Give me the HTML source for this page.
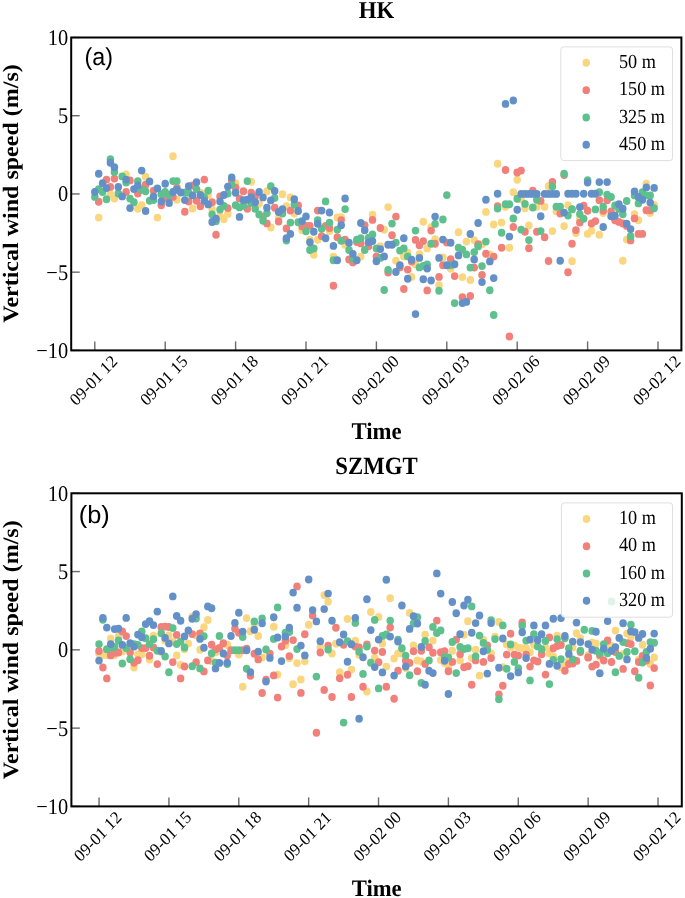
<!DOCTYPE html>
<html><head><meta charset="utf-8"><style>
html,body{margin:0;padding:0;background:#fff;width:685px;height:898px;overflow:hidden}
svg{display:block;will-change:transform}
text{text-rendering:geometricPrecision}
</style></head><body>
<svg width="685" height="898" viewBox="0 0 685 898">
<rect width="685" height="898" fill="#fff"/>
<ellipse cx="98.7" cy="217.6" rx="3.75" ry="3.95" fill="#fad77e"/>
<ellipse cx="110.4" cy="194.2" rx="3.75" ry="3.95" fill="#fad77e"/>
<ellipse cx="114.4" cy="198.6" rx="3.75" ry="3.95" fill="#fad77e"/>
<ellipse cx="126.1" cy="174.5" rx="3.75" ry="3.95" fill="#fad77e"/>
<ellipse cx="137.8" cy="208.8" rx="3.75" ry="3.95" fill="#fad77e"/>
<ellipse cx="141.7" cy="205.2" rx="3.75" ry="3.95" fill="#fad77e"/>
<ellipse cx="145.6" cy="176.7" rx="3.75" ry="3.95" fill="#fad77e"/>
<ellipse cx="157.4" cy="217.6" rx="3.75" ry="3.95" fill="#fad77e"/>
<ellipse cx="173.0" cy="156.3" rx="3.75" ry="3.95" fill="#fad77e"/>
<ellipse cx="176.9" cy="199.8" rx="3.75" ry="3.95" fill="#fad77e"/>
<ellipse cx="192.6" cy="208.5" rx="3.75" ry="3.95" fill="#fad77e"/>
<ellipse cx="200.4" cy="192.8" rx="3.75" ry="3.95" fill="#fad77e"/>
<ellipse cx="204.3" cy="194.2" rx="3.75" ry="3.95" fill="#fad77e"/>
<ellipse cx="208.2" cy="195.0" rx="3.75" ry="3.95" fill="#fad77e"/>
<ellipse cx="212.1" cy="209.6" rx="3.75" ry="3.95" fill="#fad77e"/>
<ellipse cx="220.0" cy="216.1" rx="3.75" ry="3.95" fill="#fad77e"/>
<ellipse cx="223.9" cy="219.3" rx="3.75" ry="3.95" fill="#fad77e"/>
<ellipse cx="227.8" cy="213.9" rx="3.75" ry="3.95" fill="#fad77e"/>
<ellipse cx="235.6" cy="183.3" rx="3.75" ry="3.95" fill="#fad77e"/>
<ellipse cx="251.2" cy="181.8" rx="3.75" ry="3.95" fill="#fad77e"/>
<ellipse cx="259.1" cy="203.7" rx="3.75" ry="3.95" fill="#fad77e"/>
<ellipse cx="266.9" cy="191.3" rx="3.75" ry="3.95" fill="#fad77e"/>
<ellipse cx="270.8" cy="227.5" rx="3.75" ry="3.95" fill="#fad77e"/>
<ellipse cx="278.6" cy="217.9" rx="3.75" ry="3.95" fill="#fad77e"/>
<ellipse cx="282.5" cy="194.2" rx="3.75" ry="3.95" fill="#fad77e"/>
<ellipse cx="286.4" cy="206.2" rx="3.75" ry="3.95" fill="#fad77e"/>
<ellipse cx="290.4" cy="197.4" rx="3.75" ry="3.95" fill="#fad77e"/>
<ellipse cx="294.3" cy="213.5" rx="3.75" ry="3.95" fill="#fad77e"/>
<ellipse cx="302.1" cy="230.3" rx="3.75" ry="3.95" fill="#fad77e"/>
<ellipse cx="309.9" cy="239.8" rx="3.75" ry="3.95" fill="#fad77e"/>
<ellipse cx="313.8" cy="254.8" rx="3.75" ry="3.95" fill="#fad77e"/>
<ellipse cx="317.7" cy="239.8" rx="3.75" ry="3.95" fill="#fad77e"/>
<ellipse cx="329.5" cy="231.0" rx="3.75" ry="3.95" fill="#fad77e"/>
<ellipse cx="333.4" cy="256.6" rx="3.75" ry="3.95" fill="#fad77e"/>
<ellipse cx="337.3" cy="217.4" rx="3.75" ry="3.95" fill="#fad77e"/>
<ellipse cx="341.2" cy="217.2" rx="3.75" ry="3.95" fill="#fad77e"/>
<ellipse cx="345.1" cy="244.9" rx="3.75" ry="3.95" fill="#fad77e"/>
<ellipse cx="360.8" cy="256.6" rx="3.75" ry="3.95" fill="#fad77e"/>
<ellipse cx="372.5" cy="214.8" rx="3.75" ry="3.95" fill="#fad77e"/>
<ellipse cx="380.3" cy="246.2" rx="3.75" ry="3.95" fill="#fad77e"/>
<ellipse cx="384.2" cy="229.7" rx="3.75" ry="3.95" fill="#fad77e"/>
<ellipse cx="388.1" cy="207.1" rx="3.75" ry="3.95" fill="#fad77e"/>
<ellipse cx="395.9" cy="260.8" rx="3.75" ry="3.95" fill="#fad77e"/>
<ellipse cx="403.8" cy="256.4" rx="3.75" ry="3.95" fill="#fad77e"/>
<ellipse cx="407.7" cy="252.8" rx="3.75" ry="3.95" fill="#fad77e"/>
<ellipse cx="411.6" cy="276.9" rx="3.75" ry="3.95" fill="#fad77e"/>
<ellipse cx="415.5" cy="264.4" rx="3.75" ry="3.95" fill="#fad77e"/>
<ellipse cx="419.4" cy="254.2" rx="3.75" ry="3.95" fill="#fad77e"/>
<ellipse cx="423.3" cy="221.8" rx="3.75" ry="3.95" fill="#fad77e"/>
<ellipse cx="427.2" cy="248.4" rx="3.75" ry="3.95" fill="#fad77e"/>
<ellipse cx="431.1" cy="227.2" rx="3.75" ry="3.95" fill="#fad77e"/>
<ellipse cx="435.1" cy="239.3" rx="3.75" ry="3.95" fill="#fad77e"/>
<ellipse cx="439.0" cy="285.2" rx="3.75" ry="3.95" fill="#fad77e"/>
<ellipse cx="442.9" cy="257.4" rx="3.75" ry="3.95" fill="#fad77e"/>
<ellipse cx="450.7" cy="268.8" rx="3.75" ry="3.95" fill="#fad77e"/>
<ellipse cx="458.5" cy="232.3" rx="3.75" ry="3.95" fill="#fad77e"/>
<ellipse cx="462.4" cy="277.1" rx="3.75" ry="3.95" fill="#fad77e"/>
<ellipse cx="466.4" cy="241.6" rx="3.75" ry="3.95" fill="#fad77e"/>
<ellipse cx="470.3" cy="280.0" rx="3.75" ry="3.95" fill="#fad77e"/>
<ellipse cx="474.2" cy="240.1" rx="3.75" ry="3.95" fill="#fad77e"/>
<ellipse cx="478.1" cy="244.9" rx="3.75" ry="3.95" fill="#fad77e"/>
<ellipse cx="482.0" cy="244.2" rx="3.75" ry="3.95" fill="#fad77e"/>
<ellipse cx="485.9" cy="211.9" rx="3.75" ry="3.95" fill="#fad77e"/>
<ellipse cx="489.8" cy="254.4" rx="3.75" ry="3.95" fill="#fad77e"/>
<ellipse cx="493.7" cy="224.5" rx="3.75" ry="3.95" fill="#fad77e"/>
<ellipse cx="497.6" cy="163.7" rx="3.75" ry="3.95" fill="#fad77e"/>
<ellipse cx="501.6" cy="222.6" rx="3.75" ry="3.95" fill="#fad77e"/>
<ellipse cx="505.5" cy="206.8" rx="3.75" ry="3.95" fill="#fad77e"/>
<ellipse cx="509.4" cy="247.8" rx="3.75" ry="3.95" fill="#fad77e"/>
<ellipse cx="513.3" cy="192.2" rx="3.75" ry="3.95" fill="#fad77e"/>
<ellipse cx="517.2" cy="179.8" rx="3.75" ry="3.95" fill="#fad77e"/>
<ellipse cx="521.1" cy="199.5" rx="3.75" ry="3.95" fill="#fad77e"/>
<ellipse cx="525.0" cy="208.2" rx="3.75" ry="3.95" fill="#fad77e"/>
<ellipse cx="528.9" cy="225.5" rx="3.75" ry="3.95" fill="#fad77e"/>
<ellipse cx="536.8" cy="206.8" rx="3.75" ry="3.95" fill="#fad77e"/>
<ellipse cx="544.6" cy="206.8" rx="3.75" ry="3.95" fill="#fad77e"/>
<ellipse cx="548.5" cy="186.3" rx="3.75" ry="3.95" fill="#fad77e"/>
<ellipse cx="552.4" cy="231.1" rx="3.75" ry="3.95" fill="#fad77e"/>
<ellipse cx="556.3" cy="211.2" rx="3.75" ry="3.95" fill="#fad77e"/>
<ellipse cx="564.1" cy="226.1" rx="3.75" ry="3.95" fill="#fad77e"/>
<ellipse cx="568.0" cy="205.1" rx="3.75" ry="3.95" fill="#fad77e"/>
<ellipse cx="572.0" cy="261.2" rx="3.75" ry="3.95" fill="#fad77e"/>
<ellipse cx="575.9" cy="233.1" rx="3.75" ry="3.95" fill="#fad77e"/>
<ellipse cx="579.8" cy="218.7" rx="3.75" ry="3.95" fill="#fad77e"/>
<ellipse cx="587.6" cy="233.9" rx="3.75" ry="3.95" fill="#fad77e"/>
<ellipse cx="591.5" cy="230.7" rx="3.75" ry="3.95" fill="#fad77e"/>
<ellipse cx="599.3" cy="234.8" rx="3.75" ry="3.95" fill="#fad77e"/>
<ellipse cx="603.2" cy="213.1" rx="3.75" ry="3.95" fill="#fad77e"/>
<ellipse cx="622.8" cy="260.8" rx="3.75" ry="3.95" fill="#fad77e"/>
<ellipse cx="626.7" cy="239.6" rx="3.75" ry="3.95" fill="#fad77e"/>
<ellipse cx="634.5" cy="214.2" rx="3.75" ry="3.95" fill="#fad77e"/>
<ellipse cx="638.4" cy="220.3" rx="3.75" ry="3.95" fill="#fad77e"/>
<ellipse cx="646.3" cy="183.7" rx="3.75" ry="3.95" fill="#fad77e"/>
<ellipse cx="650.2" cy="213.1" rx="3.75" ry="3.95" fill="#fad77e"/>
<ellipse cx="654.1" cy="205.0" rx="3.75" ry="3.95" fill="#fad77e"/>
<ellipse cx="98.7" cy="201.8" rx="3.75" ry="3.95" fill="#f1807a"/>
<ellipse cx="106.5" cy="179.6" rx="3.75" ry="3.95" fill="#f1807a"/>
<ellipse cx="110.4" cy="186.9" rx="3.75" ry="3.95" fill="#f1807a"/>
<ellipse cx="114.4" cy="178.6" rx="3.75" ry="3.95" fill="#f1807a"/>
<ellipse cx="126.1" cy="192.0" rx="3.75" ry="3.95" fill="#f1807a"/>
<ellipse cx="130.0" cy="180.4" rx="3.75" ry="3.95" fill="#f1807a"/>
<ellipse cx="137.8" cy="193.5" rx="3.75" ry="3.95" fill="#f1807a"/>
<ellipse cx="145.6" cy="184.7" rx="3.75" ry="3.95" fill="#f1807a"/>
<ellipse cx="153.5" cy="190.6" rx="3.75" ry="3.95" fill="#f1807a"/>
<ellipse cx="161.3" cy="205.2" rx="3.75" ry="3.95" fill="#f1807a"/>
<ellipse cx="165.2" cy="197.9" rx="3.75" ry="3.95" fill="#f1807a"/>
<ellipse cx="173.0" cy="196.9" rx="3.75" ry="3.95" fill="#f1807a"/>
<ellipse cx="176.9" cy="187.7" rx="3.75" ry="3.95" fill="#f1807a"/>
<ellipse cx="184.8" cy="211.8" rx="3.75" ry="3.95" fill="#f1807a"/>
<ellipse cx="188.7" cy="201.5" rx="3.75" ry="3.95" fill="#f1807a"/>
<ellipse cx="192.6" cy="185.5" rx="3.75" ry="3.95" fill="#f1807a"/>
<ellipse cx="196.5" cy="200.8" rx="3.75" ry="3.95" fill="#f1807a"/>
<ellipse cx="200.4" cy="206.2" rx="3.75" ry="3.95" fill="#f1807a"/>
<ellipse cx="204.3" cy="179.6" rx="3.75" ry="3.95" fill="#f1807a"/>
<ellipse cx="212.1" cy="202.3" rx="3.75" ry="3.95" fill="#f1807a"/>
<ellipse cx="216.0" cy="234.8" rx="3.75" ry="3.95" fill="#f1807a"/>
<ellipse cx="220.0" cy="196.4" rx="3.75" ry="3.95" fill="#f1807a"/>
<ellipse cx="227.8" cy="208.1" rx="3.75" ry="3.95" fill="#f1807a"/>
<ellipse cx="231.7" cy="180.4" rx="3.75" ry="3.95" fill="#f1807a"/>
<ellipse cx="235.6" cy="187.7" rx="3.75" ry="3.95" fill="#f1807a"/>
<ellipse cx="239.5" cy="198.6" rx="3.75" ry="3.95" fill="#f1807a"/>
<ellipse cx="243.4" cy="191.3" rx="3.75" ry="3.95" fill="#f1807a"/>
<ellipse cx="247.3" cy="208.8" rx="3.75" ry="3.95" fill="#f1807a"/>
<ellipse cx="251.2" cy="192.8" rx="3.75" ry="3.95" fill="#f1807a"/>
<ellipse cx="255.2" cy="196.4" rx="3.75" ry="3.95" fill="#f1807a"/>
<ellipse cx="263.0" cy="216.9" rx="3.75" ry="3.95" fill="#f1807a"/>
<ellipse cx="266.9" cy="223.4" rx="3.75" ry="3.95" fill="#f1807a"/>
<ellipse cx="274.7" cy="207.7" rx="3.75" ry="3.95" fill="#f1807a"/>
<ellipse cx="278.6" cy="221.5" rx="3.75" ry="3.95" fill="#f1807a"/>
<ellipse cx="286.4" cy="228.4" rx="3.75" ry="3.95" fill="#f1807a"/>
<ellipse cx="290.4" cy="210.6" rx="3.75" ry="3.95" fill="#f1807a"/>
<ellipse cx="298.2" cy="205.5" rx="3.75" ry="3.95" fill="#f1807a"/>
<ellipse cx="302.1" cy="226.6" rx="3.75" ry="3.95" fill="#f1807a"/>
<ellipse cx="306.0" cy="225.9" rx="3.75" ry="3.95" fill="#f1807a"/>
<ellipse cx="309.9" cy="225.9" rx="3.75" ry="3.95" fill="#f1807a"/>
<ellipse cx="317.7" cy="210.6" rx="3.75" ry="3.95" fill="#f1807a"/>
<ellipse cx="321.6" cy="236.1" rx="3.75" ry="3.95" fill="#f1807a"/>
<ellipse cx="325.6" cy="225.9" rx="3.75" ry="3.95" fill="#f1807a"/>
<ellipse cx="329.5" cy="228.1" rx="3.75" ry="3.95" fill="#f1807a"/>
<ellipse cx="333.4" cy="285.8" rx="3.75" ry="3.95" fill="#f1807a"/>
<ellipse cx="337.3" cy="237.3" rx="3.75" ry="3.95" fill="#f1807a"/>
<ellipse cx="341.2" cy="220.1" rx="3.75" ry="3.95" fill="#f1807a"/>
<ellipse cx="345.1" cy="239.8" rx="3.75" ry="3.95" fill="#f1807a"/>
<ellipse cx="349.0" cy="259.5" rx="3.75" ry="3.95" fill="#f1807a"/>
<ellipse cx="352.9" cy="262.4" rx="3.75" ry="3.95" fill="#f1807a"/>
<ellipse cx="356.8" cy="242.0" rx="3.75" ry="3.95" fill="#f1807a"/>
<ellipse cx="360.8" cy="243.4" rx="3.75" ry="3.95" fill="#f1807a"/>
<ellipse cx="364.7" cy="225.2" rx="3.75" ry="3.95" fill="#f1807a"/>
<ellipse cx="368.6" cy="246.3" rx="3.75" ry="3.95" fill="#f1807a"/>
<ellipse cx="372.5" cy="219.9" rx="3.75" ry="3.95" fill="#f1807a"/>
<ellipse cx="376.4" cy="256.4" rx="3.75" ry="3.95" fill="#f1807a"/>
<ellipse cx="380.3" cy="228.0" rx="3.75" ry="3.95" fill="#f1807a"/>
<ellipse cx="388.1" cy="272.5" rx="3.75" ry="3.95" fill="#f1807a"/>
<ellipse cx="392.0" cy="235.3" rx="3.75" ry="3.95" fill="#f1807a"/>
<ellipse cx="395.9" cy="216.6" rx="3.75" ry="3.95" fill="#f1807a"/>
<ellipse cx="399.9" cy="267.4" rx="3.75" ry="3.95" fill="#f1807a"/>
<ellipse cx="403.8" cy="289.0" rx="3.75" ry="3.95" fill="#f1807a"/>
<ellipse cx="407.7" cy="269.6" rx="3.75" ry="3.95" fill="#f1807a"/>
<ellipse cx="411.6" cy="261.5" rx="3.75" ry="3.95" fill="#f1807a"/>
<ellipse cx="415.5" cy="239.9" rx="3.75" ry="3.95" fill="#f1807a"/>
<ellipse cx="419.4" cy="245.2" rx="3.75" ry="3.95" fill="#f1807a"/>
<ellipse cx="423.3" cy="241.1" rx="3.75" ry="3.95" fill="#f1807a"/>
<ellipse cx="427.2" cy="290.4" rx="3.75" ry="3.95" fill="#f1807a"/>
<ellipse cx="431.1" cy="230.6" rx="3.75" ry="3.95" fill="#f1807a"/>
<ellipse cx="435.1" cy="243.7" rx="3.75" ry="3.95" fill="#f1807a"/>
<ellipse cx="439.0" cy="276.9" rx="3.75" ry="3.95" fill="#f1807a"/>
<ellipse cx="442.9" cy="265.2" rx="3.75" ry="3.95" fill="#f1807a"/>
<ellipse cx="446.8" cy="242.6" rx="3.75" ry="3.95" fill="#f1807a"/>
<ellipse cx="450.7" cy="259.3" rx="3.75" ry="3.95" fill="#f1807a"/>
<ellipse cx="454.6" cy="276.1" rx="3.75" ry="3.95" fill="#f1807a"/>
<ellipse cx="462.4" cy="297.3" rx="3.75" ry="3.95" fill="#f1807a"/>
<ellipse cx="470.3" cy="296.0" rx="3.75" ry="3.95" fill="#f1807a"/>
<ellipse cx="474.2" cy="267.6" rx="3.75" ry="3.95" fill="#f1807a"/>
<ellipse cx="478.1" cy="244.2" rx="3.75" ry="3.95" fill="#f1807a"/>
<ellipse cx="482.0" cy="274.9" rx="3.75" ry="3.95" fill="#f1807a"/>
<ellipse cx="485.9" cy="253.7" rx="3.75" ry="3.95" fill="#f1807a"/>
<ellipse cx="493.7" cy="256.6" rx="3.75" ry="3.95" fill="#f1807a"/>
<ellipse cx="497.6" cy="206.1" rx="3.75" ry="3.95" fill="#f1807a"/>
<ellipse cx="501.6" cy="247.8" rx="3.75" ry="3.95" fill="#f1807a"/>
<ellipse cx="505.5" cy="170.0" rx="3.75" ry="3.95" fill="#f1807a"/>
<ellipse cx="509.4" cy="336.5" rx="3.75" ry="3.95" fill="#f1807a"/>
<ellipse cx="513.3" cy="227.0" rx="3.75" ry="3.95" fill="#f1807a"/>
<ellipse cx="517.2" cy="172.5" rx="3.75" ry="3.95" fill="#f1807a"/>
<ellipse cx="521.1" cy="170.6" rx="3.75" ry="3.95" fill="#f1807a"/>
<ellipse cx="525.0" cy="231.8" rx="3.75" ry="3.95" fill="#f1807a"/>
<ellipse cx="528.9" cy="248.3" rx="3.75" ry="3.95" fill="#f1807a"/>
<ellipse cx="532.8" cy="190.7" rx="3.75" ry="3.95" fill="#f1807a"/>
<ellipse cx="536.8" cy="231.8" rx="3.75" ry="3.95" fill="#f1807a"/>
<ellipse cx="540.7" cy="200.9" rx="3.75" ry="3.95" fill="#f1807a"/>
<ellipse cx="544.6" cy="237.2" rx="3.75" ry="3.95" fill="#f1807a"/>
<ellipse cx="548.5" cy="261.0" rx="3.75" ry="3.95" fill="#f1807a"/>
<ellipse cx="552.4" cy="182.0" rx="3.75" ry="3.95" fill="#f1807a"/>
<ellipse cx="560.2" cy="213.6" rx="3.75" ry="3.95" fill="#f1807a"/>
<ellipse cx="564.1" cy="175.0" rx="3.75" ry="3.95" fill="#f1807a"/>
<ellipse cx="568.0" cy="272.2" rx="3.75" ry="3.95" fill="#f1807a"/>
<ellipse cx="572.0" cy="243.7" rx="3.75" ry="3.95" fill="#f1807a"/>
<ellipse cx="575.9" cy="230.1" rx="3.75" ry="3.95" fill="#f1807a"/>
<ellipse cx="579.8" cy="222.6" rx="3.75" ry="3.95" fill="#f1807a"/>
<ellipse cx="583.7" cy="205.8" rx="3.75" ry="3.95" fill="#f1807a"/>
<ellipse cx="587.6" cy="210.7" rx="3.75" ry="3.95" fill="#f1807a"/>
<ellipse cx="591.5" cy="223.5" rx="3.75" ry="3.95" fill="#f1807a"/>
<ellipse cx="595.4" cy="221.1" rx="3.75" ry="3.95" fill="#f1807a"/>
<ellipse cx="599.3" cy="200.2" rx="3.75" ry="3.95" fill="#f1807a"/>
<ellipse cx="603.2" cy="210.7" rx="3.75" ry="3.95" fill="#f1807a"/>
<ellipse cx="607.1" cy="200.2" rx="3.75" ry="3.95" fill="#f1807a"/>
<ellipse cx="611.1" cy="211.5" rx="3.75" ry="3.95" fill="#f1807a"/>
<ellipse cx="615.0" cy="220.3" rx="3.75" ry="3.95" fill="#f1807a"/>
<ellipse cx="618.9" cy="221.9" rx="3.75" ry="3.95" fill="#f1807a"/>
<ellipse cx="622.8" cy="223.5" rx="3.75" ry="3.95" fill="#f1807a"/>
<ellipse cx="626.7" cy="225.9" rx="3.75" ry="3.95" fill="#f1807a"/>
<ellipse cx="630.6" cy="240.4" rx="3.75" ry="3.95" fill="#f1807a"/>
<ellipse cx="634.5" cy="218.4" rx="3.75" ry="3.95" fill="#f1807a"/>
<ellipse cx="638.4" cy="233.9" rx="3.75" ry="3.95" fill="#f1807a"/>
<ellipse cx="642.4" cy="233.9" rx="3.75" ry="3.95" fill="#f1807a"/>
<ellipse cx="646.3" cy="210.3" rx="3.75" ry="3.95" fill="#f1807a"/>
<ellipse cx="650.2" cy="210.3" rx="3.75" ry="3.95" fill="#f1807a"/>
<ellipse cx="94.8" cy="196.9" rx="3.75" ry="3.95" fill="#5ec18d"/>
<ellipse cx="98.7" cy="189.1" rx="3.75" ry="3.95" fill="#5ec18d"/>
<ellipse cx="102.6" cy="192.0" rx="3.75" ry="3.95" fill="#5ec18d"/>
<ellipse cx="106.5" cy="199.3" rx="3.75" ry="3.95" fill="#5ec18d"/>
<ellipse cx="110.4" cy="159.2" rx="3.75" ry="3.95" fill="#5ec18d"/>
<ellipse cx="114.4" cy="172.0" rx="3.75" ry="3.95" fill="#5ec18d"/>
<ellipse cx="118.3" cy="193.5" rx="3.75" ry="3.95" fill="#5ec18d"/>
<ellipse cx="122.2" cy="176.4" rx="3.75" ry="3.95" fill="#5ec18d"/>
<ellipse cx="126.1" cy="182.6" rx="3.75" ry="3.95" fill="#5ec18d"/>
<ellipse cx="130.0" cy="198.6" rx="3.75" ry="3.95" fill="#5ec18d"/>
<ellipse cx="133.9" cy="202.3" rx="3.75" ry="3.95" fill="#5ec18d"/>
<ellipse cx="137.8" cy="181.1" rx="3.75" ry="3.95" fill="#5ec18d"/>
<ellipse cx="141.7" cy="189.8" rx="3.75" ry="3.95" fill="#5ec18d"/>
<ellipse cx="145.6" cy="191.3" rx="3.75" ry="3.95" fill="#5ec18d"/>
<ellipse cx="149.6" cy="200.8" rx="3.75" ry="3.95" fill="#5ec18d"/>
<ellipse cx="153.5" cy="200.1" rx="3.75" ry="3.95" fill="#5ec18d"/>
<ellipse cx="161.3" cy="194.2" rx="3.75" ry="3.95" fill="#5ec18d"/>
<ellipse cx="165.2" cy="192.0" rx="3.75" ry="3.95" fill="#5ec18d"/>
<ellipse cx="169.1" cy="195.0" rx="3.75" ry="3.95" fill="#5ec18d"/>
<ellipse cx="173.0" cy="181.1" rx="3.75" ry="3.95" fill="#5ec18d"/>
<ellipse cx="176.9" cy="181.1" rx="3.75" ry="3.95" fill="#5ec18d"/>
<ellipse cx="184.8" cy="192.5" rx="3.75" ry="3.95" fill="#5ec18d"/>
<ellipse cx="188.7" cy="192.8" rx="3.75" ry="3.95" fill="#5ec18d"/>
<ellipse cx="196.5" cy="189.1" rx="3.75" ry="3.95" fill="#5ec18d"/>
<ellipse cx="204.3" cy="197.2" rx="3.75" ry="3.95" fill="#5ec18d"/>
<ellipse cx="208.2" cy="190.6" rx="3.75" ry="3.95" fill="#5ec18d"/>
<ellipse cx="212.1" cy="214.4" rx="3.75" ry="3.95" fill="#5ec18d"/>
<ellipse cx="216.0" cy="221.2" rx="3.75" ry="3.95" fill="#5ec18d"/>
<ellipse cx="220.0" cy="209.6" rx="3.75" ry="3.95" fill="#5ec18d"/>
<ellipse cx="223.9" cy="205.9" rx="3.75" ry="3.95" fill="#5ec18d"/>
<ellipse cx="227.8" cy="193.5" rx="3.75" ry="3.95" fill="#5ec18d"/>
<ellipse cx="231.7" cy="184.7" rx="3.75" ry="3.95" fill="#5ec18d"/>
<ellipse cx="235.6" cy="205.2" rx="3.75" ry="3.95" fill="#5ec18d"/>
<ellipse cx="239.5" cy="207.4" rx="3.75" ry="3.95" fill="#5ec18d"/>
<ellipse cx="243.4" cy="205.9" rx="3.75" ry="3.95" fill="#5ec18d"/>
<ellipse cx="247.3" cy="181.1" rx="3.75" ry="3.95" fill="#5ec18d"/>
<ellipse cx="251.2" cy="203.0" rx="3.75" ry="3.95" fill="#5ec18d"/>
<ellipse cx="255.2" cy="208.8" rx="3.75" ry="3.95" fill="#5ec18d"/>
<ellipse cx="259.1" cy="214.4" rx="3.75" ry="3.95" fill="#5ec18d"/>
<ellipse cx="263.0" cy="220.8" rx="3.75" ry="3.95" fill="#5ec18d"/>
<ellipse cx="266.9" cy="213.2" rx="3.75" ry="3.95" fill="#5ec18d"/>
<ellipse cx="270.8" cy="186.2" rx="3.75" ry="3.95" fill="#5ec18d"/>
<ellipse cx="274.7" cy="197.9" rx="3.75" ry="3.95" fill="#5ec18d"/>
<ellipse cx="282.5" cy="213.5" rx="3.75" ry="3.95" fill="#5ec18d"/>
<ellipse cx="286.4" cy="240.5" rx="3.75" ry="3.95" fill="#5ec18d"/>
<ellipse cx="290.4" cy="222.6" rx="3.75" ry="3.95" fill="#5ec18d"/>
<ellipse cx="294.3" cy="204.7" rx="3.75" ry="3.95" fill="#5ec18d"/>
<ellipse cx="298.2" cy="222.3" rx="3.75" ry="3.95" fill="#5ec18d"/>
<ellipse cx="306.0" cy="231.3" rx="3.75" ry="3.95" fill="#5ec18d"/>
<ellipse cx="309.9" cy="250.0" rx="3.75" ry="3.95" fill="#5ec18d"/>
<ellipse cx="313.8" cy="248.5" rx="3.75" ry="3.95" fill="#5ec18d"/>
<ellipse cx="317.7" cy="220.1" rx="3.75" ry="3.95" fill="#5ec18d"/>
<ellipse cx="321.6" cy="228.8" rx="3.75" ry="3.95" fill="#5ec18d"/>
<ellipse cx="325.6" cy="201.4" rx="3.75" ry="3.95" fill="#5ec18d"/>
<ellipse cx="329.5" cy="222.7" rx="3.75" ry="3.95" fill="#5ec18d"/>
<ellipse cx="333.4" cy="260.2" rx="3.75" ry="3.95" fill="#5ec18d"/>
<ellipse cx="337.3" cy="229.6" rx="3.75" ry="3.95" fill="#5ec18d"/>
<ellipse cx="341.2" cy="240.8" rx="3.75" ry="3.95" fill="#5ec18d"/>
<ellipse cx="345.1" cy="209.1" rx="3.75" ry="3.95" fill="#5ec18d"/>
<ellipse cx="349.0" cy="250.0" rx="3.75" ry="3.95" fill="#5ec18d"/>
<ellipse cx="352.9" cy="258.8" rx="3.75" ry="3.95" fill="#5ec18d"/>
<ellipse cx="356.8" cy="239.8" rx="3.75" ry="3.95" fill="#5ec18d"/>
<ellipse cx="360.8" cy="238.3" rx="3.75" ry="3.95" fill="#5ec18d"/>
<ellipse cx="364.7" cy="250.0" rx="3.75" ry="3.95" fill="#5ec18d"/>
<ellipse cx="368.6" cy="237.6" rx="3.75" ry="3.95" fill="#5ec18d"/>
<ellipse cx="372.5" cy="234.5" rx="3.75" ry="3.95" fill="#5ec18d"/>
<ellipse cx="376.4" cy="248.4" rx="3.75" ry="3.95" fill="#5ec18d"/>
<ellipse cx="380.3" cy="257.9" rx="3.75" ry="3.95" fill="#5ec18d"/>
<ellipse cx="384.2" cy="290.0" rx="3.75" ry="3.95" fill="#5ec18d"/>
<ellipse cx="388.1" cy="270.0" rx="3.75" ry="3.95" fill="#5ec18d"/>
<ellipse cx="392.0" cy="223.6" rx="3.75" ry="3.95" fill="#5ec18d"/>
<ellipse cx="395.9" cy="242.6" rx="3.75" ry="3.95" fill="#5ec18d"/>
<ellipse cx="399.9" cy="250.6" rx="3.75" ry="3.95" fill="#5ec18d"/>
<ellipse cx="403.8" cy="248.4" rx="3.75" ry="3.95" fill="#5ec18d"/>
<ellipse cx="407.7" cy="256.4" rx="3.75" ry="3.95" fill="#5ec18d"/>
<ellipse cx="415.5" cy="230.6" rx="3.75" ry="3.95" fill="#5ec18d"/>
<ellipse cx="419.4" cy="267.4" rx="3.75" ry="3.95" fill="#5ec18d"/>
<ellipse cx="423.3" cy="265.9" rx="3.75" ry="3.95" fill="#5ec18d"/>
<ellipse cx="427.2" cy="264.4" rx="3.75" ry="3.95" fill="#5ec18d"/>
<ellipse cx="431.1" cy="243.7" rx="3.75" ry="3.95" fill="#5ec18d"/>
<ellipse cx="435.1" cy="223.9" rx="3.75" ry="3.95" fill="#5ec18d"/>
<ellipse cx="439.0" cy="290.7" rx="3.75" ry="3.95" fill="#5ec18d"/>
<ellipse cx="442.9" cy="219.5" rx="3.75" ry="3.95" fill="#5ec18d"/>
<ellipse cx="446.8" cy="195.1" rx="3.75" ry="3.95" fill="#5ec18d"/>
<ellipse cx="450.7" cy="265.2" rx="3.75" ry="3.95" fill="#5ec18d"/>
<ellipse cx="454.6" cy="303.1" rx="3.75" ry="3.95" fill="#5ec18d"/>
<ellipse cx="458.5" cy="247.7" rx="3.75" ry="3.95" fill="#5ec18d"/>
<ellipse cx="462.4" cy="249.8" rx="3.75" ry="3.95" fill="#5ec18d"/>
<ellipse cx="466.4" cy="254.4" rx="3.75" ry="3.95" fill="#5ec18d"/>
<ellipse cx="470.3" cy="267.6" rx="3.75" ry="3.95" fill="#5ec18d"/>
<ellipse cx="474.2" cy="252.2" rx="3.75" ry="3.95" fill="#5ec18d"/>
<ellipse cx="478.1" cy="246.4" rx="3.75" ry="3.95" fill="#5ec18d"/>
<ellipse cx="482.0" cy="266.1" rx="3.75" ry="3.95" fill="#5ec18d"/>
<ellipse cx="485.9" cy="241.6" rx="3.75" ry="3.95" fill="#5ec18d"/>
<ellipse cx="489.8" cy="290.2" rx="3.75" ry="3.95" fill="#5ec18d"/>
<ellipse cx="493.7" cy="315.0" rx="3.75" ry="3.95" fill="#5ec18d"/>
<ellipse cx="497.6" cy="208.5" rx="3.75" ry="3.95" fill="#5ec18d"/>
<ellipse cx="501.6" cy="232.8" rx="3.75" ry="3.95" fill="#5ec18d"/>
<ellipse cx="505.5" cy="204.2" rx="3.75" ry="3.95" fill="#5ec18d"/>
<ellipse cx="509.4" cy="204.2" rx="3.75" ry="3.95" fill="#5ec18d"/>
<ellipse cx="513.3" cy="218.5" rx="3.75" ry="3.95" fill="#5ec18d"/>
<ellipse cx="517.2" cy="198.8" rx="3.75" ry="3.95" fill="#5ec18d"/>
<ellipse cx="521.1" cy="229.6" rx="3.75" ry="3.95" fill="#5ec18d"/>
<ellipse cx="525.0" cy="203.9" rx="3.75" ry="3.95" fill="#5ec18d"/>
<ellipse cx="528.9" cy="240.1" rx="3.75" ry="3.95" fill="#5ec18d"/>
<ellipse cx="532.8" cy="207.5" rx="3.75" ry="3.95" fill="#5ec18d"/>
<ellipse cx="536.8" cy="199.8" rx="3.75" ry="3.95" fill="#5ec18d"/>
<ellipse cx="540.7" cy="231.1" rx="3.75" ry="3.95" fill="#5ec18d"/>
<ellipse cx="552.4" cy="186.6" rx="3.75" ry="3.95" fill="#5ec18d"/>
<ellipse cx="556.3" cy="206.8" rx="3.75" ry="3.95" fill="#5ec18d"/>
<ellipse cx="560.2" cy="206.6" rx="3.75" ry="3.95" fill="#5ec18d"/>
<ellipse cx="564.1" cy="173.7" rx="3.75" ry="3.95" fill="#5ec18d"/>
<ellipse cx="568.0" cy="215.6" rx="3.75" ry="3.95" fill="#5ec18d"/>
<ellipse cx="572.0" cy="209.4" rx="3.75" ry="3.95" fill="#5ec18d"/>
<ellipse cx="572.0" cy="209.1" rx="3.75" ry="3.95" fill="#5ec18d"/>
<ellipse cx="579.8" cy="214.1" rx="3.75" ry="3.95" fill="#5ec18d"/>
<ellipse cx="583.7" cy="218.7" rx="3.75" ry="3.95" fill="#5ec18d"/>
<ellipse cx="587.6" cy="180.2" rx="3.75" ry="3.95" fill="#5ec18d"/>
<ellipse cx="595.4" cy="209.4" rx="3.75" ry="3.95" fill="#5ec18d"/>
<ellipse cx="599.3" cy="192.2" rx="3.75" ry="3.95" fill="#5ec18d"/>
<ellipse cx="603.2" cy="206.7" rx="3.75" ry="3.95" fill="#5ec18d"/>
<ellipse cx="607.1" cy="194.6" rx="3.75" ry="3.95" fill="#5ec18d"/>
<ellipse cx="611.1" cy="197.0" rx="3.75" ry="3.95" fill="#5ec18d"/>
<ellipse cx="615.0" cy="205.5" rx="3.75" ry="3.95" fill="#5ec18d"/>
<ellipse cx="618.9" cy="209.1" rx="3.75" ry="3.95" fill="#5ec18d"/>
<ellipse cx="622.8" cy="214.2" rx="3.75" ry="3.95" fill="#5ec18d"/>
<ellipse cx="626.7" cy="201.0" rx="3.75" ry="3.95" fill="#5ec18d"/>
<ellipse cx="630.6" cy="236.3" rx="3.75" ry="3.95" fill="#5ec18d"/>
<ellipse cx="634.5" cy="195.4" rx="3.75" ry="3.95" fill="#5ec18d"/>
<ellipse cx="638.4" cy="203.4" rx="3.75" ry="3.95" fill="#5ec18d"/>
<ellipse cx="642.4" cy="192.2" rx="3.75" ry="3.95" fill="#5ec18d"/>
<ellipse cx="646.3" cy="195.4" rx="3.75" ry="3.95" fill="#5ec18d"/>
<ellipse cx="650.2" cy="195.4" rx="3.75" ry="3.95" fill="#5ec18d"/>
<ellipse cx="654.1" cy="208.2" rx="3.75" ry="3.95" fill="#5ec18d"/>
<ellipse cx="94.8" cy="192.0" rx="3.75" ry="3.95" fill="#6490c8"/>
<ellipse cx="98.7" cy="173.8" rx="3.75" ry="3.95" fill="#6490c8"/>
<ellipse cx="102.6" cy="183.3" rx="3.75" ry="3.95" fill="#6490c8"/>
<ellipse cx="106.5" cy="188.1" rx="3.75" ry="3.95" fill="#6490c8"/>
<ellipse cx="110.4" cy="162.8" rx="3.75" ry="3.95" fill="#6490c8"/>
<ellipse cx="114.4" cy="167.2" rx="3.75" ry="3.95" fill="#6490c8"/>
<ellipse cx="118.3" cy="186.9" rx="3.75" ry="3.95" fill="#6490c8"/>
<ellipse cx="122.2" cy="196.4" rx="3.75" ry="3.95" fill="#6490c8"/>
<ellipse cx="126.1" cy="179.6" rx="3.75" ry="3.95" fill="#6490c8"/>
<ellipse cx="130.0" cy="208.1" rx="3.75" ry="3.95" fill="#6490c8"/>
<ellipse cx="133.9" cy="189.1" rx="3.75" ry="3.95" fill="#6490c8"/>
<ellipse cx="137.8" cy="185.5" rx="3.75" ry="3.95" fill="#6490c8"/>
<ellipse cx="141.7" cy="170.6" rx="3.75" ry="3.95" fill="#6490c8"/>
<ellipse cx="145.6" cy="211.0" rx="3.75" ry="3.95" fill="#6490c8"/>
<ellipse cx="149.6" cy="181.4" rx="3.75" ry="3.95" fill="#6490c8"/>
<ellipse cx="153.5" cy="196.4" rx="3.75" ry="3.95" fill="#6490c8"/>
<ellipse cx="157.4" cy="188.4" rx="3.75" ry="3.95" fill="#6490c8"/>
<ellipse cx="161.3" cy="201.5" rx="3.75" ry="3.95" fill="#6490c8"/>
<ellipse cx="165.2" cy="183.7" rx="3.75" ry="3.95" fill="#6490c8"/>
<ellipse cx="169.1" cy="203.0" rx="3.75" ry="3.95" fill="#6490c8"/>
<ellipse cx="173.0" cy="192.0" rx="3.75" ry="3.95" fill="#6490c8"/>
<ellipse cx="176.9" cy="189.8" rx="3.75" ry="3.95" fill="#6490c8"/>
<ellipse cx="180.8" cy="192.5" rx="3.75" ry="3.95" fill="#6490c8"/>
<ellipse cx="184.8" cy="200.1" rx="3.75" ry="3.95" fill="#6490c8"/>
<ellipse cx="188.7" cy="186.2" rx="3.75" ry="3.95" fill="#6490c8"/>
<ellipse cx="192.6" cy="195.4" rx="3.75" ry="3.95" fill="#6490c8"/>
<ellipse cx="196.5" cy="182.3" rx="3.75" ry="3.95" fill="#6490c8"/>
<ellipse cx="200.4" cy="195.0" rx="3.75" ry="3.95" fill="#6490c8"/>
<ellipse cx="204.3" cy="200.8" rx="3.75" ry="3.95" fill="#6490c8"/>
<ellipse cx="208.2" cy="204.4" rx="3.75" ry="3.95" fill="#6490c8"/>
<ellipse cx="212.1" cy="222.0" rx="3.75" ry="3.95" fill="#6490c8"/>
<ellipse cx="216.0" cy="218.8" rx="3.75" ry="3.95" fill="#6490c8"/>
<ellipse cx="220.0" cy="201.5" rx="3.75" ry="3.95" fill="#6490c8"/>
<ellipse cx="223.9" cy="195.0" rx="3.75" ry="3.95" fill="#6490c8"/>
<ellipse cx="227.8" cy="186.6" rx="3.75" ry="3.95" fill="#6490c8"/>
<ellipse cx="231.7" cy="177.4" rx="3.75" ry="3.95" fill="#6490c8"/>
<ellipse cx="235.6" cy="192.8" rx="3.75" ry="3.95" fill="#6490c8"/>
<ellipse cx="239.5" cy="216.9" rx="3.75" ry="3.95" fill="#6490c8"/>
<ellipse cx="243.4" cy="200.1" rx="3.75" ry="3.95" fill="#6490c8"/>
<ellipse cx="247.3" cy="199.8" rx="3.75" ry="3.95" fill="#6490c8"/>
<ellipse cx="251.2" cy="197.2" rx="3.75" ry="3.95" fill="#6490c8"/>
<ellipse cx="255.2" cy="202.3" rx="3.75" ry="3.95" fill="#6490c8"/>
<ellipse cx="259.1" cy="192.0" rx="3.75" ry="3.95" fill="#6490c8"/>
<ellipse cx="263.0" cy="197.4" rx="3.75" ry="3.95" fill="#6490c8"/>
<ellipse cx="266.9" cy="207.7" rx="3.75" ry="3.95" fill="#6490c8"/>
<ellipse cx="270.8" cy="200.4" rx="3.75" ry="3.95" fill="#6490c8"/>
<ellipse cx="274.7" cy="191.0" rx="3.75" ry="3.95" fill="#6490c8"/>
<ellipse cx="278.6" cy="212.0" rx="3.75" ry="3.95" fill="#6490c8"/>
<ellipse cx="282.5" cy="209.1" rx="3.75" ry="3.95" fill="#6490c8"/>
<ellipse cx="286.4" cy="238.3" rx="3.75" ry="3.95" fill="#6490c8"/>
<ellipse cx="290.4" cy="233.9" rx="3.75" ry="3.95" fill="#6490c8"/>
<ellipse cx="294.3" cy="199.3" rx="3.75" ry="3.95" fill="#6490c8"/>
<ellipse cx="298.2" cy="211.0" rx="3.75" ry="3.95" fill="#6490c8"/>
<ellipse cx="302.1" cy="221.1" rx="3.75" ry="3.95" fill="#6490c8"/>
<ellipse cx="306.0" cy="216.4" rx="3.75" ry="3.95" fill="#6490c8"/>
<ellipse cx="309.9" cy="242.3" rx="3.75" ry="3.95" fill="#6490c8"/>
<ellipse cx="313.8" cy="231.8" rx="3.75" ry="3.95" fill="#6490c8"/>
<ellipse cx="317.7" cy="223.7" rx="3.75" ry="3.95" fill="#6490c8"/>
<ellipse cx="321.6" cy="210.6" rx="3.75" ry="3.95" fill="#6490c8"/>
<ellipse cx="325.6" cy="238.3" rx="3.75" ry="3.95" fill="#6490c8"/>
<ellipse cx="329.5" cy="212.5" rx="3.75" ry="3.95" fill="#6490c8"/>
<ellipse cx="333.4" cy="245.9" rx="3.75" ry="3.95" fill="#6490c8"/>
<ellipse cx="337.3" cy="260.2" rx="3.75" ry="3.95" fill="#6490c8"/>
<ellipse cx="341.2" cy="225.2" rx="3.75" ry="3.95" fill="#6490c8"/>
<ellipse cx="345.1" cy="198.5" rx="3.75" ry="3.95" fill="#6490c8"/>
<ellipse cx="349.0" cy="242.7" rx="3.75" ry="3.95" fill="#6490c8"/>
<ellipse cx="352.9" cy="253.9" rx="3.75" ry="3.95" fill="#6490c8"/>
<ellipse cx="356.8" cy="260.2" rx="3.75" ry="3.95" fill="#6490c8"/>
<ellipse cx="360.8" cy="223.0" rx="3.75" ry="3.95" fill="#6490c8"/>
<ellipse cx="364.7" cy="230.3" rx="3.75" ry="3.95" fill="#6490c8"/>
<ellipse cx="368.6" cy="242.3" rx="3.75" ry="3.95" fill="#6490c8"/>
<ellipse cx="372.5" cy="241.1" rx="3.75" ry="3.95" fill="#6490c8"/>
<ellipse cx="376.4" cy="261.2" rx="3.75" ry="3.95" fill="#6490c8"/>
<ellipse cx="380.3" cy="249.1" rx="3.75" ry="3.95" fill="#6490c8"/>
<ellipse cx="384.2" cy="256.4" rx="3.75" ry="3.95" fill="#6490c8"/>
<ellipse cx="388.1" cy="244.7" rx="3.75" ry="3.95" fill="#6490c8"/>
<ellipse cx="392.0" cy="244.7" rx="3.75" ry="3.95" fill="#6490c8"/>
<ellipse cx="395.9" cy="272.0" rx="3.75" ry="3.95" fill="#6490c8"/>
<ellipse cx="399.9" cy="265.2" rx="3.75" ry="3.95" fill="#6490c8"/>
<ellipse cx="403.8" cy="238.2" rx="3.75" ry="3.95" fill="#6490c8"/>
<ellipse cx="407.7" cy="278.8" rx="3.75" ry="3.95" fill="#6490c8"/>
<ellipse cx="411.6" cy="259.8" rx="3.75" ry="3.95" fill="#6490c8"/>
<ellipse cx="415.5" cy="314.1" rx="3.75" ry="3.95" fill="#6490c8"/>
<ellipse cx="419.4" cy="257.9" rx="3.75" ry="3.95" fill="#6490c8"/>
<ellipse cx="423.3" cy="279.3" rx="3.75" ry="3.95" fill="#6490c8"/>
<ellipse cx="427.2" cy="268.5" rx="3.75" ry="3.95" fill="#6490c8"/>
<ellipse cx="431.1" cy="280.5" rx="3.75" ry="3.95" fill="#6490c8"/>
<ellipse cx="435.1" cy="216.6" rx="3.75" ry="3.95" fill="#6490c8"/>
<ellipse cx="439.0" cy="257.9" rx="3.75" ry="3.95" fill="#6490c8"/>
<ellipse cx="442.9" cy="239.6" rx="3.75" ry="3.95" fill="#6490c8"/>
<ellipse cx="446.8" cy="265.2" rx="3.75" ry="3.95" fill="#6490c8"/>
<ellipse cx="450.7" cy="242.8" rx="3.75" ry="3.95" fill="#6490c8"/>
<ellipse cx="454.6" cy="264.2" rx="3.75" ry="3.95" fill="#6490c8"/>
<ellipse cx="458.5" cy="255.4" rx="3.75" ry="3.95" fill="#6490c8"/>
<ellipse cx="462.4" cy="303.1" rx="3.75" ry="3.95" fill="#6490c8"/>
<ellipse cx="466.4" cy="301.9" rx="3.75" ry="3.95" fill="#6490c8"/>
<ellipse cx="470.3" cy="234.0" rx="3.75" ry="3.95" fill="#6490c8"/>
<ellipse cx="474.2" cy="259.5" rx="3.75" ry="3.95" fill="#6490c8"/>
<ellipse cx="478.1" cy="223.0" rx="3.75" ry="3.95" fill="#6490c8"/>
<ellipse cx="482.0" cy="282.1" rx="3.75" ry="3.95" fill="#6490c8"/>
<ellipse cx="485.9" cy="199.8" rx="3.75" ry="3.95" fill="#6490c8"/>
<ellipse cx="489.8" cy="261.4" rx="3.75" ry="3.95" fill="#6490c8"/>
<ellipse cx="493.7" cy="278.1" rx="3.75" ry="3.95" fill="#6490c8"/>
<ellipse cx="497.6" cy="193.7" rx="3.75" ry="3.95" fill="#6490c8"/>
<ellipse cx="505.5" cy="103.9" rx="3.75" ry="3.95" fill="#6490c8"/>
<ellipse cx="509.4" cy="236.6" rx="3.75" ry="3.95" fill="#6490c8"/>
<ellipse cx="513.3" cy="100.5" rx="3.75" ry="3.95" fill="#6490c8"/>
<ellipse cx="517.2" cy="209.7" rx="3.75" ry="3.95" fill="#6490c8"/>
<ellipse cx="521.1" cy="193.9" rx="3.75" ry="3.95" fill="#6490c8"/>
<ellipse cx="525.0" cy="193.9" rx="3.75" ry="3.95" fill="#6490c8"/>
<ellipse cx="528.9" cy="193.9" rx="3.75" ry="3.95" fill="#6490c8"/>
<ellipse cx="532.8" cy="193.9" rx="3.75" ry="3.95" fill="#6490c8"/>
<ellipse cx="536.8" cy="193.9" rx="3.75" ry="3.95" fill="#6490c8"/>
<ellipse cx="540.7" cy="216.3" rx="3.75" ry="3.95" fill="#6490c8"/>
<ellipse cx="544.6" cy="193.9" rx="3.75" ry="3.95" fill="#6490c8"/>
<ellipse cx="548.5" cy="193.9" rx="3.75" ry="3.95" fill="#6490c8"/>
<ellipse cx="552.4" cy="193.9" rx="3.75" ry="3.95" fill="#6490c8"/>
<ellipse cx="556.3" cy="193.9" rx="3.75" ry="3.95" fill="#6490c8"/>
<ellipse cx="560.2" cy="260.7" rx="3.75" ry="3.95" fill="#6490c8"/>
<ellipse cx="564.1" cy="212.6" rx="3.75" ry="3.95" fill="#6490c8"/>
<ellipse cx="568.0" cy="193.8" rx="3.75" ry="3.95" fill="#6490c8"/>
<ellipse cx="572.0" cy="193.8" rx="3.75" ry="3.95" fill="#6490c8"/>
<ellipse cx="575.9" cy="193.8" rx="3.75" ry="3.95" fill="#6490c8"/>
<ellipse cx="579.8" cy="207.1" rx="3.75" ry="3.95" fill="#6490c8"/>
<ellipse cx="583.7" cy="193.8" rx="3.75" ry="3.95" fill="#6490c8"/>
<ellipse cx="587.6" cy="182.6" rx="3.75" ry="3.95" fill="#6490c8"/>
<ellipse cx="591.5" cy="193.8" rx="3.75" ry="3.95" fill="#6490c8"/>
<ellipse cx="595.4" cy="193.8" rx="3.75" ry="3.95" fill="#6490c8"/>
<ellipse cx="599.3" cy="182.1" rx="3.75" ry="3.95" fill="#6490c8"/>
<ellipse cx="603.2" cy="227.0" rx="3.75" ry="3.95" fill="#6490c8"/>
<ellipse cx="607.1" cy="182.1" rx="3.75" ry="3.95" fill="#6490c8"/>
<ellipse cx="611.1" cy="216.3" rx="3.75" ry="3.95" fill="#6490c8"/>
<ellipse cx="615.0" cy="215.8" rx="3.75" ry="3.95" fill="#6490c8"/>
<ellipse cx="618.9" cy="204.2" rx="3.75" ry="3.95" fill="#6490c8"/>
<ellipse cx="622.8" cy="208.7" rx="3.75" ry="3.95" fill="#6490c8"/>
<ellipse cx="626.7" cy="223.8" rx="3.75" ry="3.95" fill="#6490c8"/>
<ellipse cx="630.6" cy="229.1" rx="3.75" ry="3.95" fill="#6490c8"/>
<ellipse cx="634.5" cy="191.4" rx="3.75" ry="3.95" fill="#6490c8"/>
<ellipse cx="638.4" cy="197.0" rx="3.75" ry="3.95" fill="#6490c8"/>
<ellipse cx="642.4" cy="199.7" rx="3.75" ry="3.95" fill="#6490c8"/>
<ellipse cx="646.3" cy="187.4" rx="3.75" ry="3.95" fill="#6490c8"/>
<ellipse cx="650.2" cy="202.6" rx="3.75" ry="3.95" fill="#6490c8"/>
<ellipse cx="654.1" cy="187.9" rx="3.75" ry="3.95" fill="#6490c8"/>
<line x1="71.2" y1="37.50" x2="79.7" y2="37.50" stroke="#6a6a6a" stroke-width="1.4"/>
<text transform="translate(68.10,45.00) scale(0.9960,1.0950)" text-anchor="end" font-family='"Liberation Serif", serif' font-size="20.5">10</text>
<line x1="71.2" y1="115.72" x2="79.7" y2="115.72" stroke="#6a6a6a" stroke-width="1.4"/>
<text transform="translate(68.10,123.22) scale(0.9960,1.0950)" text-anchor="end" font-family='"Liberation Serif", serif' font-size="20.5">5</text>
<line x1="71.2" y1="193.95" x2="79.7" y2="193.95" stroke="#6a6a6a" stroke-width="1.4"/>
<text transform="translate(68.10,201.45) scale(0.9960,1.0950)" text-anchor="end" font-family='"Liberation Serif", serif' font-size="20.5">0</text>
<line x1="71.2" y1="272.17" x2="79.7" y2="272.17" stroke="#6a6a6a" stroke-width="1.4"/>
<text transform="translate(68.10,279.67) scale(0.9960,1.0950)" text-anchor="end" font-family='"Liberation Serif", serif' font-size="20.5">−5</text>
<line x1="71.2" y1="350.40" x2="79.7" y2="350.40" stroke="#6a6a6a" stroke-width="1.4"/>
<text transform="translate(68.10,357.90) scale(0.9960,1.0950)" text-anchor="end" font-family='"Liberation Serif", serif' font-size="20.5">−10</text>
<line x1="94.80" y1="350.4" x2="94.80" y2="341.4" stroke="#6a6a6a" stroke-width="1.4"/>
<text transform="translate(97.34,384.46) scale(1.0040,1.0590) rotate(-45)" text-anchor="middle" font-family='"Liberation Serif", serif' font-size="16.5">09-01 12</text>
<line x1="165.20" y1="350.4" x2="165.20" y2="341.4" stroke="#6a6a6a" stroke-width="1.4"/>
<text transform="translate(167.74,384.46) scale(1.0040,1.0590) rotate(-45)" text-anchor="middle" font-family='"Liberation Serif", serif' font-size="16.5">09-01 15</text>
<line x1="235.60" y1="350.4" x2="235.60" y2="341.4" stroke="#6a6a6a" stroke-width="1.4"/>
<text transform="translate(238.14,384.46) scale(1.0040,1.0590) rotate(-45)" text-anchor="middle" font-family='"Liberation Serif", serif' font-size="16.5">09-01 18</text>
<line x1="306.00" y1="350.4" x2="306.00" y2="341.4" stroke="#6a6a6a" stroke-width="1.4"/>
<text transform="translate(308.54,384.46) scale(1.0040,1.0590) rotate(-45)" text-anchor="middle" font-family='"Liberation Serif", serif' font-size="16.5">09-01 21</text>
<line x1="376.40" y1="350.4" x2="376.40" y2="341.4" stroke="#6a6a6a" stroke-width="1.4"/>
<text transform="translate(378.94,384.46) scale(1.0040,1.0590) rotate(-45)" text-anchor="middle" font-family='"Liberation Serif", serif' font-size="16.5">09-02 00</text>
<line x1="446.80" y1="350.4" x2="446.80" y2="341.4" stroke="#6a6a6a" stroke-width="1.4"/>
<text transform="translate(449.34,384.46) scale(1.0040,1.0590) rotate(-45)" text-anchor="middle" font-family='"Liberation Serif", serif' font-size="16.5">09-02 03</text>
<line x1="517.20" y1="350.4" x2="517.20" y2="341.4" stroke="#6a6a6a" stroke-width="1.4"/>
<text transform="translate(519.74,384.46) scale(1.0040,1.0590) rotate(-45)" text-anchor="middle" font-family='"Liberation Serif", serif' font-size="16.5">09-02 06</text>
<line x1="587.60" y1="350.4" x2="587.60" y2="341.4" stroke="#6a6a6a" stroke-width="1.4"/>
<text transform="translate(590.14,384.46) scale(1.0040,1.0590) rotate(-45)" text-anchor="middle" font-family='"Liberation Serif", serif' font-size="16.5">09-02 09</text>
<line x1="658.00" y1="350.4" x2="658.00" y2="341.4" stroke="#6a6a6a" stroke-width="1.4"/>
<text transform="translate(660.54,384.46) scale(1.0040,1.0590) rotate(-45)" text-anchor="middle" font-family='"Liberation Serif", serif' font-size="16.5">09-02 12</text>
<rect x="71.2" y="37.5" width="610.20" height="312.90" fill="none" stroke="#000" stroke-width="2"/>
<rect x="560.8" y="46.9" width="111.8" height="113.7" rx="3" fill="#fff" fill-opacity="0.8" stroke="#dedede" stroke-width="1"/>
<ellipse cx="586.2" cy="62.80" rx="3.75" ry="3.95" fill="#fad77e"/>
<text transform="translate(618.90,67.97) scale(0.9710,1.0630)" font-family='"Liberation Serif", serif' font-size="18.8">50 m</text>
<ellipse cx="586.2" cy="90.13" rx="3.75" ry="3.95" fill="#f1807a"/>
<text transform="translate(618.90,95.30) scale(0.9710,1.0630)" font-family='"Liberation Serif", serif' font-size="18.8">150 m</text>
<ellipse cx="586.2" cy="117.46" rx="3.75" ry="3.95" fill="#5ec18d"/>
<text transform="translate(618.90,122.63) scale(0.9710,1.0630)" font-family='"Liberation Serif", serif' font-size="18.8">325 m</text>
<ellipse cx="586.2" cy="144.79" rx="3.75" ry="3.95" fill="#6490c8"/>
<text transform="translate(618.90,149.96) scale(0.9710,1.0630)" font-family='"Liberation Serif", serif' font-size="18.8">450 m</text>
<text transform="translate(84.54,65.30) scale(0.9714,1.0202)" font-family='"Liberation Sans", sans-serif' font-size="24">(a)</text>
<text transform="translate(376.58,17.69) scale(0.9929,1.0533)" text-anchor="middle" font-family='"Liberation Serif", serif' font-weight="bold" font-size="23">HK</text>
<text transform="translate(376.52,439.04) scale(0.9910,1.0400)" text-anchor="middle" font-family='"Liberation Serif", serif' font-weight="bold" font-size="23">Time</text>
<text transform="translate(17.56,193.51) scale(0.9571,1.0437) rotate(-90)" text-anchor="middle" font-family='"Liberation Serif", serif' font-weight="bold" font-size="23">Vertical wind speed (m/s)</text>
<ellipse cx="99.0" cy="653.6" rx="3.75" ry="3.95" fill="#fad77e"/>
<ellipse cx="102.9" cy="655.1" rx="3.75" ry="3.95" fill="#fad77e"/>
<ellipse cx="106.8" cy="655.1" rx="3.75" ry="3.95" fill="#fad77e"/>
<ellipse cx="110.7" cy="638.7" rx="3.75" ry="3.95" fill="#fad77e"/>
<ellipse cx="114.6" cy="655.1" rx="3.75" ry="3.95" fill="#fad77e"/>
<ellipse cx="118.5" cy="636.1" rx="3.75" ry="3.95" fill="#fad77e"/>
<ellipse cx="122.3" cy="651.4" rx="3.75" ry="3.95" fill="#fad77e"/>
<ellipse cx="130.1" cy="649.2" rx="3.75" ry="3.95" fill="#fad77e"/>
<ellipse cx="134.0" cy="667.5" rx="3.75" ry="3.95" fill="#fad77e"/>
<ellipse cx="137.9" cy="654.3" rx="3.75" ry="3.95" fill="#fad77e"/>
<ellipse cx="141.8" cy="654.3" rx="3.75" ry="3.95" fill="#fad77e"/>
<ellipse cx="149.5" cy="659.5" rx="3.75" ry="3.95" fill="#fad77e"/>
<ellipse cx="153.4" cy="635.8" rx="3.75" ry="3.95" fill="#fad77e"/>
<ellipse cx="161.2" cy="652.1" rx="3.75" ry="3.95" fill="#fad77e"/>
<ellipse cx="165.1" cy="640.5" rx="3.75" ry="3.95" fill="#fad77e"/>
<ellipse cx="168.9" cy="635.4" rx="3.75" ry="3.95" fill="#fad77e"/>
<ellipse cx="172.8" cy="641.9" rx="3.75" ry="3.95" fill="#fad77e"/>
<ellipse cx="176.7" cy="655.4" rx="3.75" ry="3.95" fill="#fad77e"/>
<ellipse cx="180.6" cy="665.0" rx="3.75" ry="3.95" fill="#fad77e"/>
<ellipse cx="184.5" cy="649.2" rx="3.75" ry="3.95" fill="#fad77e"/>
<ellipse cx="188.3" cy="643.6" rx="3.75" ry="3.95" fill="#fad77e"/>
<ellipse cx="192.2" cy="616.6" rx="3.75" ry="3.95" fill="#fad77e"/>
<ellipse cx="196.1" cy="635.6" rx="3.75" ry="3.95" fill="#fad77e"/>
<ellipse cx="200.0" cy="649.7" rx="3.75" ry="3.95" fill="#fad77e"/>
<ellipse cx="203.9" cy="627.3" rx="3.75" ry="3.95" fill="#fad77e"/>
<ellipse cx="207.8" cy="620.0" rx="3.75" ry="3.95" fill="#fad77e"/>
<ellipse cx="211.6" cy="661.1" rx="3.75" ry="3.95" fill="#fad77e"/>
<ellipse cx="215.5" cy="652.4" rx="3.75" ry="3.95" fill="#fad77e"/>
<ellipse cx="227.2" cy="644.8" rx="3.75" ry="3.95" fill="#fad77e"/>
<ellipse cx="227.2" cy="644.8" rx="3.75" ry="3.95" fill="#fad77e"/>
<ellipse cx="238.8" cy="654.6" rx="3.75" ry="3.95" fill="#fad77e"/>
<ellipse cx="242.7" cy="686.7" rx="3.75" ry="3.95" fill="#fad77e"/>
<ellipse cx="246.6" cy="618.1" rx="3.75" ry="3.95" fill="#fad77e"/>
<ellipse cx="250.4" cy="631.2" rx="3.75" ry="3.95" fill="#fad77e"/>
<ellipse cx="254.3" cy="624.6" rx="3.75" ry="3.95" fill="#fad77e"/>
<ellipse cx="258.2" cy="636.0" rx="3.75" ry="3.95" fill="#fad77e"/>
<ellipse cx="262.1" cy="657.5" rx="3.75" ry="3.95" fill="#fad77e"/>
<ellipse cx="273.7" cy="626.8" rx="3.75" ry="3.95" fill="#fad77e"/>
<ellipse cx="277.6" cy="674.6" rx="3.75" ry="3.95" fill="#fad77e"/>
<ellipse cx="285.4" cy="645.2" rx="3.75" ry="3.95" fill="#fad77e"/>
<ellipse cx="289.3" cy="658.3" rx="3.75" ry="3.95" fill="#fad77e"/>
<ellipse cx="293.1" cy="684.2" rx="3.75" ry="3.95" fill="#fad77e"/>
<ellipse cx="297.0" cy="663.1" rx="3.75" ry="3.95" fill="#fad77e"/>
<ellipse cx="300.9" cy="679.5" rx="3.75" ry="3.95" fill="#fad77e"/>
<ellipse cx="304.8" cy="661.2" rx="3.75" ry="3.95" fill="#fad77e"/>
<ellipse cx="308.7" cy="624.7" rx="3.75" ry="3.95" fill="#fad77e"/>
<ellipse cx="320.3" cy="647.1" rx="3.75" ry="3.95" fill="#fad77e"/>
<ellipse cx="324.2" cy="595.1" rx="3.75" ry="3.95" fill="#fad77e"/>
<ellipse cx="328.1" cy="601.8" rx="3.75" ry="3.95" fill="#fad77e"/>
<ellipse cx="332.0" cy="653.5" rx="3.75" ry="3.95" fill="#fad77e"/>
<ellipse cx="335.9" cy="643.7" rx="3.75" ry="3.95" fill="#fad77e"/>
<ellipse cx="339.7" cy="672.2" rx="3.75" ry="3.95" fill="#fad77e"/>
<ellipse cx="347.5" cy="618.9" rx="3.75" ry="3.95" fill="#fad77e"/>
<ellipse cx="351.4" cy="669.6" rx="3.75" ry="3.95" fill="#fad77e"/>
<ellipse cx="355.3" cy="640.8" rx="3.75" ry="3.95" fill="#fad77e"/>
<ellipse cx="359.1" cy="654.7" rx="3.75" ry="3.95" fill="#fad77e"/>
<ellipse cx="366.9" cy="691.5" rx="3.75" ry="3.95" fill="#fad77e"/>
<ellipse cx="370.8" cy="612.0" rx="3.75" ry="3.95" fill="#fad77e"/>
<ellipse cx="374.7" cy="657.9" rx="3.75" ry="3.95" fill="#fad77e"/>
<ellipse cx="378.6" cy="616.9" rx="3.75" ry="3.95" fill="#fad77e"/>
<ellipse cx="382.4" cy="643.5" rx="3.75" ry="3.95" fill="#fad77e"/>
<ellipse cx="386.3" cy="666.6" rx="3.75" ry="3.95" fill="#fad77e"/>
<ellipse cx="390.2" cy="598.2" rx="3.75" ry="3.95" fill="#fad77e"/>
<ellipse cx="394.1" cy="658.5" rx="3.75" ry="3.95" fill="#fad77e"/>
<ellipse cx="398.0" cy="653.4" rx="3.75" ry="3.95" fill="#fad77e"/>
<ellipse cx="401.9" cy="653.4" rx="3.75" ry="3.95" fill="#fad77e"/>
<ellipse cx="405.7" cy="668.0" rx="3.75" ry="3.95" fill="#fad77e"/>
<ellipse cx="409.6" cy="612.9" rx="3.75" ry="3.95" fill="#fad77e"/>
<ellipse cx="413.5" cy="645.4" rx="3.75" ry="3.95" fill="#fad77e"/>
<ellipse cx="417.4" cy="660.4" rx="3.75" ry="3.95" fill="#fad77e"/>
<ellipse cx="421.3" cy="661.5" rx="3.75" ry="3.95" fill="#fad77e"/>
<ellipse cx="425.1" cy="634.7" rx="3.75" ry="3.95" fill="#fad77e"/>
<ellipse cx="432.9" cy="640.6" rx="3.75" ry="3.95" fill="#fad77e"/>
<ellipse cx="440.7" cy="660.0" rx="3.75" ry="3.95" fill="#fad77e"/>
<ellipse cx="444.6" cy="662.9" rx="3.75" ry="3.95" fill="#fad77e"/>
<ellipse cx="448.4" cy="667.3" rx="3.75" ry="3.95" fill="#fad77e"/>
<ellipse cx="452.3" cy="650.8" rx="3.75" ry="3.95" fill="#fad77e"/>
<ellipse cx="460.1" cy="660.4" rx="3.75" ry="3.95" fill="#fad77e"/>
<ellipse cx="464.0" cy="634.7" rx="3.75" ry="3.95" fill="#fad77e"/>
<ellipse cx="467.9" cy="621.3" rx="3.75" ry="3.95" fill="#fad77e"/>
<ellipse cx="471.7" cy="658.1" rx="3.75" ry="3.95" fill="#fad77e"/>
<ellipse cx="475.6" cy="649.8" rx="3.75" ry="3.95" fill="#fad77e"/>
<ellipse cx="479.5" cy="675.6" rx="3.75" ry="3.95" fill="#fad77e"/>
<ellipse cx="483.4" cy="639.6" rx="3.75" ry="3.95" fill="#fad77e"/>
<ellipse cx="491.1" cy="653.4" rx="3.75" ry="3.95" fill="#fad77e"/>
<ellipse cx="495.0" cy="636.6" rx="3.75" ry="3.95" fill="#fad77e"/>
<ellipse cx="498.9" cy="622.0" rx="3.75" ry="3.95" fill="#fad77e"/>
<ellipse cx="502.8" cy="667.3" rx="3.75" ry="3.95" fill="#fad77e"/>
<ellipse cx="506.7" cy="644.4" rx="3.75" ry="3.95" fill="#fad77e"/>
<ellipse cx="510.6" cy="647.6" rx="3.75" ry="3.95" fill="#fad77e"/>
<ellipse cx="514.4" cy="645.4" rx="3.75" ry="3.95" fill="#fad77e"/>
<ellipse cx="518.3" cy="647.6" rx="3.75" ry="3.95" fill="#fad77e"/>
<ellipse cx="522.2" cy="648.3" rx="3.75" ry="3.95" fill="#fad77e"/>
<ellipse cx="526.1" cy="648.3" rx="3.75" ry="3.95" fill="#fad77e"/>
<ellipse cx="530.0" cy="652.3" rx="3.75" ry="3.95" fill="#fad77e"/>
<ellipse cx="533.9" cy="644.7" rx="3.75" ry="3.95" fill="#fad77e"/>
<ellipse cx="545.5" cy="647.6" rx="3.75" ry="3.95" fill="#fad77e"/>
<ellipse cx="549.4" cy="653.4" rx="3.75" ry="3.95" fill="#fad77e"/>
<ellipse cx="553.3" cy="656.4" rx="3.75" ry="3.95" fill="#fad77e"/>
<ellipse cx="557.1" cy="635.6" rx="3.75" ry="3.95" fill="#fad77e"/>
<ellipse cx="561.0" cy="667.3" rx="3.75" ry="3.95" fill="#fad77e"/>
<ellipse cx="564.9" cy="665.8" rx="3.75" ry="3.95" fill="#fad77e"/>
<ellipse cx="568.8" cy="659.7" rx="3.75" ry="3.95" fill="#fad77e"/>
<ellipse cx="572.7" cy="647.4" rx="3.75" ry="3.95" fill="#fad77e"/>
<ellipse cx="576.5" cy="633.3" rx="3.75" ry="3.95" fill="#fad77e"/>
<ellipse cx="580.4" cy="638.2" rx="3.75" ry="3.95" fill="#fad77e"/>
<ellipse cx="588.2" cy="655.1" rx="3.75" ry="3.95" fill="#fad77e"/>
<ellipse cx="592.1" cy="642.5" rx="3.75" ry="3.95" fill="#fad77e"/>
<ellipse cx="596.0" cy="643.6" rx="3.75" ry="3.95" fill="#fad77e"/>
<ellipse cx="599.8" cy="656.6" rx="3.75" ry="3.95" fill="#fad77e"/>
<ellipse cx="607.6" cy="645.9" rx="3.75" ry="3.95" fill="#fad77e"/>
<ellipse cx="611.5" cy="645.9" rx="3.75" ry="3.95" fill="#fad77e"/>
<ellipse cx="615.4" cy="630.6" rx="3.75" ry="3.95" fill="#fad77e"/>
<ellipse cx="623.1" cy="654.3" rx="3.75" ry="3.95" fill="#fad77e"/>
<ellipse cx="627.0" cy="633.6" rx="3.75" ry="3.95" fill="#fad77e"/>
<ellipse cx="630.9" cy="636.7" rx="3.75" ry="3.95" fill="#fad77e"/>
<ellipse cx="638.7" cy="659.7" rx="3.75" ry="3.95" fill="#fad77e"/>
<ellipse cx="642.5" cy="644.7" rx="3.75" ry="3.95" fill="#fad77e"/>
<ellipse cx="650.3" cy="663.5" rx="3.75" ry="3.95" fill="#fad77e"/>
<ellipse cx="650.3" cy="664.0" rx="3.75" ry="3.95" fill="#fad77e"/>
<ellipse cx="654.2" cy="657.4" rx="3.75" ry="3.95" fill="#fad77e"/>
<ellipse cx="99.0" cy="651.0" rx="3.75" ry="3.95" fill="#f1807a"/>
<ellipse cx="102.9" cy="667.5" rx="3.75" ry="3.95" fill="#f1807a"/>
<ellipse cx="106.8" cy="678.4" rx="3.75" ry="3.95" fill="#f1807a"/>
<ellipse cx="110.7" cy="655.4" rx="3.75" ry="3.95" fill="#f1807a"/>
<ellipse cx="114.6" cy="652.9" rx="3.75" ry="3.95" fill="#f1807a"/>
<ellipse cx="118.5" cy="652.5" rx="3.75" ry="3.95" fill="#f1807a"/>
<ellipse cx="122.3" cy="631.4" rx="3.75" ry="3.95" fill="#f1807a"/>
<ellipse cx="126.2" cy="636.1" rx="3.75" ry="3.95" fill="#f1807a"/>
<ellipse cx="130.1" cy="652.5" rx="3.75" ry="3.95" fill="#f1807a"/>
<ellipse cx="134.0" cy="662.7" rx="3.75" ry="3.95" fill="#f1807a"/>
<ellipse cx="137.9" cy="660.2" rx="3.75" ry="3.95" fill="#f1807a"/>
<ellipse cx="141.8" cy="648.1" rx="3.75" ry="3.95" fill="#f1807a"/>
<ellipse cx="145.6" cy="648.1" rx="3.75" ry="3.95" fill="#f1807a"/>
<ellipse cx="149.5" cy="655.8" rx="3.75" ry="3.95" fill="#f1807a"/>
<ellipse cx="153.4" cy="647.5" rx="3.75" ry="3.95" fill="#f1807a"/>
<ellipse cx="157.3" cy="664.1" rx="3.75" ry="3.95" fill="#f1807a"/>
<ellipse cx="161.2" cy="627.0" rx="3.75" ry="3.95" fill="#f1807a"/>
<ellipse cx="165.1" cy="626.6" rx="3.75" ry="3.95" fill="#f1807a"/>
<ellipse cx="168.9" cy="627.0" rx="3.75" ry="3.95" fill="#f1807a"/>
<ellipse cx="172.8" cy="662.1" rx="3.75" ry="3.95" fill="#f1807a"/>
<ellipse cx="176.7" cy="634.9" rx="3.75" ry="3.95" fill="#f1807a"/>
<ellipse cx="180.6" cy="678.4" rx="3.75" ry="3.95" fill="#f1807a"/>
<ellipse cx="184.5" cy="666.5" rx="3.75" ry="3.95" fill="#f1807a"/>
<ellipse cx="192.2" cy="634.1" rx="3.75" ry="3.95" fill="#f1807a"/>
<ellipse cx="196.1" cy="662.3" rx="3.75" ry="3.95" fill="#f1807a"/>
<ellipse cx="200.0" cy="633.4" rx="3.75" ry="3.95" fill="#f1807a"/>
<ellipse cx="203.9" cy="671.4" rx="3.75" ry="3.95" fill="#f1807a"/>
<ellipse cx="207.8" cy="660.4" rx="3.75" ry="3.95" fill="#f1807a"/>
<ellipse cx="211.6" cy="644.8" rx="3.75" ry="3.95" fill="#f1807a"/>
<ellipse cx="215.5" cy="649.5" rx="3.75" ry="3.95" fill="#f1807a"/>
<ellipse cx="219.4" cy="648.0" rx="3.75" ry="3.95" fill="#f1807a"/>
<ellipse cx="223.3" cy="643.3" rx="3.75" ry="3.95" fill="#f1807a"/>
<ellipse cx="227.2" cy="655.6" rx="3.75" ry="3.95" fill="#f1807a"/>
<ellipse cx="231.0" cy="650.2" rx="3.75" ry="3.95" fill="#f1807a"/>
<ellipse cx="234.9" cy="628.7" rx="3.75" ry="3.95" fill="#f1807a"/>
<ellipse cx="238.8" cy="632.7" rx="3.75" ry="3.95" fill="#f1807a"/>
<ellipse cx="242.7" cy="650.2" rx="3.75" ry="3.95" fill="#f1807a"/>
<ellipse cx="246.6" cy="648.7" rx="3.75" ry="3.95" fill="#f1807a"/>
<ellipse cx="250.4" cy="675.7" rx="3.75" ry="3.95" fill="#f1807a"/>
<ellipse cx="254.3" cy="653.8" rx="3.75" ry="3.95" fill="#f1807a"/>
<ellipse cx="258.2" cy="659.4" rx="3.75" ry="3.95" fill="#f1807a"/>
<ellipse cx="262.1" cy="693.0" rx="3.75" ry="3.95" fill="#f1807a"/>
<ellipse cx="266.0" cy="679.8" rx="3.75" ry="3.95" fill="#f1807a"/>
<ellipse cx="269.9" cy="653.8" rx="3.75" ry="3.95" fill="#f1807a"/>
<ellipse cx="273.7" cy="675.4" rx="3.75" ry="3.95" fill="#f1807a"/>
<ellipse cx="277.6" cy="697.6" rx="3.75" ry="3.95" fill="#f1807a"/>
<ellipse cx="281.5" cy="646.5" rx="3.75" ry="3.95" fill="#f1807a"/>
<ellipse cx="285.4" cy="640.8" rx="3.75" ry="3.95" fill="#f1807a"/>
<ellipse cx="289.3" cy="656.1" rx="3.75" ry="3.95" fill="#f1807a"/>
<ellipse cx="293.1" cy="640.1" rx="3.75" ry="3.95" fill="#f1807a"/>
<ellipse cx="297.0" cy="586.4" rx="3.75" ry="3.95" fill="#f1807a"/>
<ellipse cx="300.9" cy="692.9" rx="3.75" ry="3.95" fill="#f1807a"/>
<ellipse cx="304.8" cy="634.2" rx="3.75" ry="3.95" fill="#f1807a"/>
<ellipse cx="312.6" cy="615.5" rx="3.75" ry="3.95" fill="#f1807a"/>
<ellipse cx="316.4" cy="732.8" rx="3.75" ry="3.95" fill="#f1807a"/>
<ellipse cx="320.3" cy="652.5" rx="3.75" ry="3.95" fill="#f1807a"/>
<ellipse cx="324.2" cy="690.0" rx="3.75" ry="3.95" fill="#f1807a"/>
<ellipse cx="328.1" cy="645.6" rx="3.75" ry="3.95" fill="#f1807a"/>
<ellipse cx="332.0" cy="697.0" rx="3.75" ry="3.95" fill="#f1807a"/>
<ellipse cx="335.9" cy="627.7" rx="3.75" ry="3.95" fill="#f1807a"/>
<ellipse cx="339.7" cy="678.3" rx="3.75" ry="3.95" fill="#f1807a"/>
<ellipse cx="343.6" cy="644.7" rx="3.75" ry="3.95" fill="#f1807a"/>
<ellipse cx="347.5" cy="674.8" rx="3.75" ry="3.95" fill="#f1807a"/>
<ellipse cx="351.4" cy="697.0" rx="3.75" ry="3.95" fill="#f1807a"/>
<ellipse cx="355.3" cy="646.6" rx="3.75" ry="3.95" fill="#f1807a"/>
<ellipse cx="359.1" cy="647.4" rx="3.75" ry="3.95" fill="#f1807a"/>
<ellipse cx="363.0" cy="686.8" rx="3.75" ry="3.95" fill="#f1807a"/>
<ellipse cx="366.9" cy="644.5" rx="3.75" ry="3.95" fill="#f1807a"/>
<ellipse cx="374.7" cy="650.6" rx="3.75" ry="3.95" fill="#f1807a"/>
<ellipse cx="378.6" cy="662.2" rx="3.75" ry="3.95" fill="#f1807a"/>
<ellipse cx="382.4" cy="652.0" rx="3.75" ry="3.95" fill="#f1807a"/>
<ellipse cx="386.3" cy="686.7" rx="3.75" ry="3.95" fill="#f1807a"/>
<ellipse cx="390.2" cy="627.5" rx="3.75" ry="3.95" fill="#f1807a"/>
<ellipse cx="394.1" cy="698.8" rx="3.75" ry="3.95" fill="#f1807a"/>
<ellipse cx="398.0" cy="670.7" rx="3.75" ry="3.95" fill="#f1807a"/>
<ellipse cx="405.7" cy="660.7" rx="3.75" ry="3.95" fill="#f1807a"/>
<ellipse cx="409.6" cy="662.9" rx="3.75" ry="3.95" fill="#f1807a"/>
<ellipse cx="413.5" cy="651.2" rx="3.75" ry="3.95" fill="#f1807a"/>
<ellipse cx="417.4" cy="671.2" rx="3.75" ry="3.95" fill="#f1807a"/>
<ellipse cx="421.3" cy="650.8" rx="3.75" ry="3.95" fill="#f1807a"/>
<ellipse cx="425.1" cy="663.9" rx="3.75" ry="3.95" fill="#f1807a"/>
<ellipse cx="429.0" cy="647.3" rx="3.75" ry="3.95" fill="#f1807a"/>
<ellipse cx="432.9" cy="652.7" rx="3.75" ry="3.95" fill="#f1807a"/>
<ellipse cx="436.8" cy="620.6" rx="3.75" ry="3.95" fill="#f1807a"/>
<ellipse cx="440.7" cy="652.3" rx="3.75" ry="3.95" fill="#f1807a"/>
<ellipse cx="444.6" cy="651.2" rx="3.75" ry="3.95" fill="#f1807a"/>
<ellipse cx="448.4" cy="671.2" rx="3.75" ry="3.95" fill="#f1807a"/>
<ellipse cx="452.3" cy="661.9" rx="3.75" ry="3.95" fill="#f1807a"/>
<ellipse cx="456.2" cy="639.6" rx="3.75" ry="3.95" fill="#f1807a"/>
<ellipse cx="460.1" cy="654.2" rx="3.75" ry="3.95" fill="#f1807a"/>
<ellipse cx="464.0" cy="667.3" rx="3.75" ry="3.95" fill="#f1807a"/>
<ellipse cx="467.9" cy="666.3" rx="3.75" ry="3.95" fill="#f1807a"/>
<ellipse cx="471.7" cy="684.8" rx="3.75" ry="3.95" fill="#f1807a"/>
<ellipse cx="475.6" cy="660.4" rx="3.75" ry="3.95" fill="#f1807a"/>
<ellipse cx="483.4" cy="661.9" rx="3.75" ry="3.95" fill="#f1807a"/>
<ellipse cx="487.3" cy="645.4" rx="3.75" ry="3.95" fill="#f1807a"/>
<ellipse cx="491.1" cy="658.1" rx="3.75" ry="3.95" fill="#f1807a"/>
<ellipse cx="498.9" cy="694.5" rx="3.75" ry="3.95" fill="#f1807a"/>
<ellipse cx="502.8" cy="685.8" rx="3.75" ry="3.95" fill="#f1807a"/>
<ellipse cx="506.7" cy="654.6" rx="3.75" ry="3.95" fill="#f1807a"/>
<ellipse cx="510.6" cy="633.7" rx="3.75" ry="3.95" fill="#f1807a"/>
<ellipse cx="514.4" cy="654.6" rx="3.75" ry="3.95" fill="#f1807a"/>
<ellipse cx="518.3" cy="655.6" rx="3.75" ry="3.95" fill="#f1807a"/>
<ellipse cx="522.2" cy="622.5" rx="3.75" ry="3.95" fill="#f1807a"/>
<ellipse cx="526.1" cy="654.6" rx="3.75" ry="3.95" fill="#f1807a"/>
<ellipse cx="530.0" cy="666.6" rx="3.75" ry="3.95" fill="#f1807a"/>
<ellipse cx="533.9" cy="660.4" rx="3.75" ry="3.95" fill="#f1807a"/>
<ellipse cx="537.7" cy="661.5" rx="3.75" ry="3.95" fill="#f1807a"/>
<ellipse cx="541.6" cy="654.2" rx="3.75" ry="3.95" fill="#f1807a"/>
<ellipse cx="545.5" cy="674.6" rx="3.75" ry="3.95" fill="#f1807a"/>
<ellipse cx="549.4" cy="637.4" rx="3.75" ry="3.95" fill="#f1807a"/>
<ellipse cx="553.3" cy="648.3" rx="3.75" ry="3.95" fill="#f1807a"/>
<ellipse cx="557.1" cy="646.1" rx="3.75" ry="3.95" fill="#f1807a"/>
<ellipse cx="561.0" cy="645.0" rx="3.75" ry="3.95" fill="#f1807a"/>
<ellipse cx="564.9" cy="670.7" rx="3.75" ry="3.95" fill="#f1807a"/>
<ellipse cx="568.8" cy="664.0" rx="3.75" ry="3.95" fill="#f1807a"/>
<ellipse cx="572.7" cy="663.5" rx="3.75" ry="3.95" fill="#f1807a"/>
<ellipse cx="576.5" cy="660.9" rx="3.75" ry="3.95" fill="#f1807a"/>
<ellipse cx="580.4" cy="652.0" rx="3.75" ry="3.95" fill="#f1807a"/>
<ellipse cx="588.2" cy="657.4" rx="3.75" ry="3.95" fill="#f1807a"/>
<ellipse cx="588.2" cy="657.4" rx="3.75" ry="3.95" fill="#f1807a"/>
<ellipse cx="592.1" cy="666.6" rx="3.75" ry="3.95" fill="#f1807a"/>
<ellipse cx="596.0" cy="664.6" rx="3.75" ry="3.95" fill="#f1807a"/>
<ellipse cx="599.8" cy="655.1" rx="3.75" ry="3.95" fill="#f1807a"/>
<ellipse cx="603.7" cy="660.5" rx="3.75" ry="3.95" fill="#f1807a"/>
<ellipse cx="607.6" cy="640.5" rx="3.75" ry="3.95" fill="#f1807a"/>
<ellipse cx="611.5" cy="662.0" rx="3.75" ry="3.95" fill="#f1807a"/>
<ellipse cx="615.4" cy="652.0" rx="3.75" ry="3.95" fill="#f1807a"/>
<ellipse cx="623.1" cy="668.9" rx="3.75" ry="3.95" fill="#f1807a"/>
<ellipse cx="627.0" cy="643.1" rx="3.75" ry="3.95" fill="#f1807a"/>
<ellipse cx="630.9" cy="644.1" rx="3.75" ry="3.95" fill="#f1807a"/>
<ellipse cx="634.8" cy="671.2" rx="3.75" ry="3.95" fill="#f1807a"/>
<ellipse cx="638.7" cy="662.0" rx="3.75" ry="3.95" fill="#f1807a"/>
<ellipse cx="642.5" cy="655.9" rx="3.75" ry="3.95" fill="#f1807a"/>
<ellipse cx="646.4" cy="660.5" rx="3.75" ry="3.95" fill="#f1807a"/>
<ellipse cx="650.3" cy="685.5" rx="3.75" ry="3.95" fill="#f1807a"/>
<ellipse cx="654.2" cy="668.1" rx="3.75" ry="3.95" fill="#f1807a"/>
<ellipse cx="99.0" cy="644.1" rx="3.75" ry="3.95" fill="#5ec18d"/>
<ellipse cx="102.9" cy="619.7" rx="3.75" ry="3.95" fill="#5ec18d"/>
<ellipse cx="106.8" cy="649.2" rx="3.75" ry="3.95" fill="#5ec18d"/>
<ellipse cx="110.7" cy="647.8" rx="3.75" ry="3.95" fill="#5ec18d"/>
<ellipse cx="114.6" cy="647.0" rx="3.75" ry="3.95" fill="#5ec18d"/>
<ellipse cx="118.5" cy="640.5" rx="3.75" ry="3.95" fill="#5ec18d"/>
<ellipse cx="122.3" cy="663.5" rx="3.75" ry="3.95" fill="#5ec18d"/>
<ellipse cx="126.2" cy="648.1" rx="3.75" ry="3.95" fill="#5ec18d"/>
<ellipse cx="130.1" cy="659.2" rx="3.75" ry="3.95" fill="#5ec18d"/>
<ellipse cx="134.0" cy="644.1" rx="3.75" ry="3.95" fill="#5ec18d"/>
<ellipse cx="137.9" cy="644.9" rx="3.75" ry="3.95" fill="#5ec18d"/>
<ellipse cx="141.8" cy="631.4" rx="3.75" ry="3.95" fill="#5ec18d"/>
<ellipse cx="145.6" cy="638.3" rx="3.75" ry="3.95" fill="#5ec18d"/>
<ellipse cx="149.5" cy="644.1" rx="3.75" ry="3.95" fill="#5ec18d"/>
<ellipse cx="153.4" cy="639.3" rx="3.75" ry="3.95" fill="#5ec18d"/>
<ellipse cx="157.3" cy="650.7" rx="3.75" ry="3.95" fill="#5ec18d"/>
<ellipse cx="161.2" cy="633.2" rx="3.75" ry="3.95" fill="#5ec18d"/>
<ellipse cx="165.1" cy="656.5" rx="3.75" ry="3.95" fill="#5ec18d"/>
<ellipse cx="168.9" cy="672.3" rx="3.75" ry="3.95" fill="#5ec18d"/>
<ellipse cx="172.8" cy="628.1" rx="3.75" ry="3.95" fill="#5ec18d"/>
<ellipse cx="176.7" cy="644.1" rx="3.75" ry="3.95" fill="#5ec18d"/>
<ellipse cx="180.6" cy="641.6" rx="3.75" ry="3.95" fill="#5ec18d"/>
<ellipse cx="184.5" cy="647.5" rx="3.75" ry="3.95" fill="#5ec18d"/>
<ellipse cx="192.2" cy="666.2" rx="3.75" ry="3.95" fill="#5ec18d"/>
<ellipse cx="196.1" cy="618.5" rx="3.75" ry="3.95" fill="#5ec18d"/>
<ellipse cx="200.0" cy="668.4" rx="3.75" ry="3.95" fill="#5ec18d"/>
<ellipse cx="203.9" cy="636.3" rx="3.75" ry="3.95" fill="#5ec18d"/>
<ellipse cx="211.6" cy="653.5" rx="3.75" ry="3.95" fill="#5ec18d"/>
<ellipse cx="215.5" cy="662.6" rx="3.75" ry="3.95" fill="#5ec18d"/>
<ellipse cx="219.4" cy="636.0" rx="3.75" ry="3.95" fill="#5ec18d"/>
<ellipse cx="227.2" cy="664.0" rx="3.75" ry="3.95" fill="#5ec18d"/>
<ellipse cx="234.9" cy="650.2" rx="3.75" ry="3.95" fill="#5ec18d"/>
<ellipse cx="238.8" cy="650.2" rx="3.75" ry="3.95" fill="#5ec18d"/>
<ellipse cx="242.7" cy="637.0" rx="3.75" ry="3.95" fill="#5ec18d"/>
<ellipse cx="246.6" cy="668.7" rx="3.75" ry="3.95" fill="#5ec18d"/>
<ellipse cx="254.3" cy="621.4" rx="3.75" ry="3.95" fill="#5ec18d"/>
<ellipse cx="262.1" cy="618.5" rx="3.75" ry="3.95" fill="#5ec18d"/>
<ellipse cx="266.0" cy="649.5" rx="3.75" ry="3.95" fill="#5ec18d"/>
<ellipse cx="273.7" cy="638.9" rx="3.75" ry="3.95" fill="#5ec18d"/>
<ellipse cx="277.6" cy="607.4" rx="3.75" ry="3.95" fill="#5ec18d"/>
<ellipse cx="285.4" cy="632.8" rx="3.75" ry="3.95" fill="#5ec18d"/>
<ellipse cx="289.3" cy="632.0" rx="3.75" ry="3.95" fill="#5ec18d"/>
<ellipse cx="297.0" cy="649.1" rx="3.75" ry="3.95" fill="#5ec18d"/>
<ellipse cx="316.4" cy="676.6" rx="3.75" ry="3.95" fill="#5ec18d"/>
<ellipse cx="328.1" cy="649.6" rx="3.75" ry="3.95" fill="#5ec18d"/>
<ellipse cx="343.6" cy="722.6" rx="3.75" ry="3.95" fill="#5ec18d"/>
<ellipse cx="347.5" cy="641.2" rx="3.75" ry="3.95" fill="#5ec18d"/>
<ellipse cx="355.3" cy="622.9" rx="3.75" ry="3.95" fill="#5ec18d"/>
<ellipse cx="359.1" cy="651.8" rx="3.75" ry="3.95" fill="#5ec18d"/>
<ellipse cx="363.0" cy="673.9" rx="3.75" ry="3.95" fill="#5ec18d"/>
<ellipse cx="366.9" cy="646.6" rx="3.75" ry="3.95" fill="#5ec18d"/>
<ellipse cx="370.8" cy="662.7" rx="3.75" ry="3.95" fill="#5ec18d"/>
<ellipse cx="374.7" cy="619.9" rx="3.75" ry="3.95" fill="#5ec18d"/>
<ellipse cx="378.6" cy="688.4" rx="3.75" ry="3.95" fill="#5ec18d"/>
<ellipse cx="382.4" cy="635.9" rx="3.75" ry="3.95" fill="#5ec18d"/>
<ellipse cx="386.3" cy="634.5" rx="3.75" ry="3.95" fill="#5ec18d"/>
<ellipse cx="390.2" cy="620.6" rx="3.75" ry="3.95" fill="#5ec18d"/>
<ellipse cx="398.0" cy="639.6" rx="3.75" ry="3.95" fill="#5ec18d"/>
<ellipse cx="401.9" cy="648.3" rx="3.75" ry="3.95" fill="#5ec18d"/>
<ellipse cx="405.7" cy="655.6" rx="3.75" ry="3.95" fill="#5ec18d"/>
<ellipse cx="409.6" cy="675.3" rx="3.75" ry="3.95" fill="#5ec18d"/>
<ellipse cx="413.5" cy="623.5" rx="3.75" ry="3.95" fill="#5ec18d"/>
<ellipse cx="417.4" cy="617.2" rx="3.75" ry="3.95" fill="#5ec18d"/>
<ellipse cx="421.3" cy="682.9" rx="3.75" ry="3.95" fill="#5ec18d"/>
<ellipse cx="425.1" cy="641.0" rx="3.75" ry="3.95" fill="#5ec18d"/>
<ellipse cx="429.0" cy="660.4" rx="3.75" ry="3.95" fill="#5ec18d"/>
<ellipse cx="432.9" cy="626.9" rx="3.75" ry="3.95" fill="#5ec18d"/>
<ellipse cx="436.8" cy="633.0" rx="3.75" ry="3.95" fill="#5ec18d"/>
<ellipse cx="440.7" cy="630.4" rx="3.75" ry="3.95" fill="#5ec18d"/>
<ellipse cx="444.6" cy="657.1" rx="3.75" ry="3.95" fill="#5ec18d"/>
<ellipse cx="448.4" cy="657.5" rx="3.75" ry="3.95" fill="#5ec18d"/>
<ellipse cx="452.3" cy="642.0" rx="3.75" ry="3.95" fill="#5ec18d"/>
<ellipse cx="456.2" cy="673.1" rx="3.75" ry="3.95" fill="#5ec18d"/>
<ellipse cx="460.1" cy="646.9" rx="3.75" ry="3.95" fill="#5ec18d"/>
<ellipse cx="464.0" cy="649.0" rx="3.75" ry="3.95" fill="#5ec18d"/>
<ellipse cx="467.9" cy="648.3" rx="3.75" ry="3.95" fill="#5ec18d"/>
<ellipse cx="471.7" cy="606.4" rx="3.75" ry="3.95" fill="#5ec18d"/>
<ellipse cx="475.6" cy="656.4" rx="3.75" ry="3.95" fill="#5ec18d"/>
<ellipse cx="479.5" cy="635.6" rx="3.75" ry="3.95" fill="#5ec18d"/>
<ellipse cx="483.4" cy="642.9" rx="3.75" ry="3.95" fill="#5ec18d"/>
<ellipse cx="487.3" cy="649.8" rx="3.75" ry="3.95" fill="#5ec18d"/>
<ellipse cx="491.1" cy="620.1" rx="3.75" ry="3.95" fill="#5ec18d"/>
<ellipse cx="495.0" cy="639.1" rx="3.75" ry="3.95" fill="#5ec18d"/>
<ellipse cx="498.9" cy="699.2" rx="3.75" ry="3.95" fill="#5ec18d"/>
<ellipse cx="502.8" cy="625.4" rx="3.75" ry="3.95" fill="#5ec18d"/>
<ellipse cx="506.7" cy="668.8" rx="3.75" ry="3.95" fill="#5ec18d"/>
<ellipse cx="510.6" cy="644.4" rx="3.75" ry="3.95" fill="#5ec18d"/>
<ellipse cx="514.4" cy="661.9" rx="3.75" ry="3.95" fill="#5ec18d"/>
<ellipse cx="518.3" cy="668.3" rx="3.75" ry="3.95" fill="#5ec18d"/>
<ellipse cx="522.2" cy="625.7" rx="3.75" ry="3.95" fill="#5ec18d"/>
<ellipse cx="526.1" cy="640.6" rx="3.75" ry="3.95" fill="#5ec18d"/>
<ellipse cx="530.0" cy="680.4" rx="3.75" ry="3.95" fill="#5ec18d"/>
<ellipse cx="533.9" cy="634.2" rx="3.75" ry="3.95" fill="#5ec18d"/>
<ellipse cx="537.7" cy="646.4" rx="3.75" ry="3.95" fill="#5ec18d"/>
<ellipse cx="541.6" cy="649.3" rx="3.75" ry="3.95" fill="#5ec18d"/>
<ellipse cx="545.5" cy="641.0" rx="3.75" ry="3.95" fill="#5ec18d"/>
<ellipse cx="549.4" cy="684.1" rx="3.75" ry="3.95" fill="#5ec18d"/>
<ellipse cx="553.3" cy="660.0" rx="3.75" ry="3.95" fill="#5ec18d"/>
<ellipse cx="557.1" cy="639.1" rx="3.75" ry="3.95" fill="#5ec18d"/>
<ellipse cx="561.0" cy="659.3" rx="3.75" ry="3.95" fill="#5ec18d"/>
<ellipse cx="564.9" cy="638.2" rx="3.75" ry="3.95" fill="#5ec18d"/>
<ellipse cx="568.8" cy="648.2" rx="3.75" ry="3.95" fill="#5ec18d"/>
<ellipse cx="572.7" cy="659.4" rx="3.75" ry="3.95" fill="#5ec18d"/>
<ellipse cx="580.4" cy="650.8" rx="3.75" ry="3.95" fill="#5ec18d"/>
<ellipse cx="584.3" cy="629.8" rx="3.75" ry="3.95" fill="#5ec18d"/>
<ellipse cx="592.1" cy="630.9" rx="3.75" ry="3.95" fill="#5ec18d"/>
<ellipse cx="596.0" cy="650.8" rx="3.75" ry="3.95" fill="#5ec18d"/>
<ellipse cx="599.8" cy="653.3" rx="3.75" ry="3.95" fill="#5ec18d"/>
<ellipse cx="603.7" cy="644.1" rx="3.75" ry="3.95" fill="#5ec18d"/>
<ellipse cx="607.6" cy="653.3" rx="3.75" ry="3.95" fill="#5ec18d"/>
<ellipse cx="611.5" cy="601.5" rx="3.75" ry="3.95" fill="#5ec18d"/>
<ellipse cx="615.4" cy="672.3" rx="3.75" ry="3.95" fill="#5ec18d"/>
<ellipse cx="619.2" cy="655.9" rx="3.75" ry="3.95" fill="#5ec18d"/>
<ellipse cx="623.1" cy="642.1" rx="3.75" ry="3.95" fill="#5ec18d"/>
<ellipse cx="627.0" cy="652.0" rx="3.75" ry="3.95" fill="#5ec18d"/>
<ellipse cx="630.9" cy="624.8" rx="3.75" ry="3.95" fill="#5ec18d"/>
<ellipse cx="634.8" cy="651.3" rx="3.75" ry="3.95" fill="#5ec18d"/>
<ellipse cx="638.7" cy="677.8" rx="3.75" ry="3.95" fill="#5ec18d"/>
<ellipse cx="642.5" cy="662.5" rx="3.75" ry="3.95" fill="#5ec18d"/>
<ellipse cx="646.4" cy="652.0" rx="3.75" ry="3.95" fill="#5ec18d"/>
<ellipse cx="650.3" cy="642.1" rx="3.75" ry="3.95" fill="#5ec18d"/>
<ellipse cx="654.2" cy="642.8" rx="3.75" ry="3.95" fill="#5ec18d"/>
<ellipse cx="99.0" cy="660.6" rx="3.75" ry="3.95" fill="#6490c8"/>
<ellipse cx="102.9" cy="617.9" rx="3.75" ry="3.95" fill="#6490c8"/>
<ellipse cx="106.8" cy="627.6" rx="3.75" ry="3.95" fill="#6490c8"/>
<ellipse cx="110.7" cy="644.1" rx="3.75" ry="3.95" fill="#6490c8"/>
<ellipse cx="114.6" cy="629.1" rx="3.75" ry="3.95" fill="#6490c8"/>
<ellipse cx="118.5" cy="628.8" rx="3.75" ry="3.95" fill="#6490c8"/>
<ellipse cx="122.3" cy="644.9" rx="3.75" ry="3.95" fill="#6490c8"/>
<ellipse cx="126.2" cy="617.9" rx="3.75" ry="3.95" fill="#6490c8"/>
<ellipse cx="130.1" cy="643.1" rx="3.75" ry="3.95" fill="#6490c8"/>
<ellipse cx="134.0" cy="646.6" rx="3.75" ry="3.95" fill="#6490c8"/>
<ellipse cx="137.9" cy="634.6" rx="3.75" ry="3.95" fill="#6490c8"/>
<ellipse cx="141.8" cy="637.3" rx="3.75" ry="3.95" fill="#6490c8"/>
<ellipse cx="145.6" cy="624.1" rx="3.75" ry="3.95" fill="#6490c8"/>
<ellipse cx="149.5" cy="621.2" rx="3.75" ry="3.95" fill="#6490c8"/>
<ellipse cx="153.4" cy="625.1" rx="3.75" ry="3.95" fill="#6490c8"/>
<ellipse cx="157.3" cy="611.6" rx="3.75" ry="3.95" fill="#6490c8"/>
<ellipse cx="161.2" cy="651.0" rx="3.75" ry="3.95" fill="#6490c8"/>
<ellipse cx="165.1" cy="637.9" rx="3.75" ry="3.95" fill="#6490c8"/>
<ellipse cx="168.9" cy="643.4" rx="3.75" ry="3.95" fill="#6490c8"/>
<ellipse cx="172.8" cy="596.4" rx="3.75" ry="3.95" fill="#6490c8"/>
<ellipse cx="176.7" cy="616.0" rx="3.75" ry="3.95" fill="#6490c8"/>
<ellipse cx="180.6" cy="620.8" rx="3.75" ry="3.95" fill="#6490c8"/>
<ellipse cx="184.5" cy="636.4" rx="3.75" ry="3.95" fill="#6490c8"/>
<ellipse cx="188.3" cy="630.5" rx="3.75" ry="3.95" fill="#6490c8"/>
<ellipse cx="192.2" cy="618.8" rx="3.75" ry="3.95" fill="#6490c8"/>
<ellipse cx="196.1" cy="614.1" rx="3.75" ry="3.95" fill="#6490c8"/>
<ellipse cx="200.0" cy="638.9" rx="3.75" ry="3.95" fill="#6490c8"/>
<ellipse cx="203.9" cy="647.7" rx="3.75" ry="3.95" fill="#6490c8"/>
<ellipse cx="207.8" cy="606.4" rx="3.75" ry="3.95" fill="#6490c8"/>
<ellipse cx="211.6" cy="608.3" rx="3.75" ry="3.95" fill="#6490c8"/>
<ellipse cx="215.5" cy="668.4" rx="3.75" ry="3.95" fill="#6490c8"/>
<ellipse cx="219.4" cy="662.9" rx="3.75" ry="3.95" fill="#6490c8"/>
<ellipse cx="223.3" cy="653.5" rx="3.75" ry="3.95" fill="#6490c8"/>
<ellipse cx="227.2" cy="662.6" rx="3.75" ry="3.95" fill="#6490c8"/>
<ellipse cx="231.0" cy="636.0" rx="3.75" ry="3.95" fill="#6490c8"/>
<ellipse cx="234.9" cy="622.9" rx="3.75" ry="3.95" fill="#6490c8"/>
<ellipse cx="238.8" cy="612.7" rx="3.75" ry="3.95" fill="#6490c8"/>
<ellipse cx="242.7" cy="631.6" rx="3.75" ry="3.95" fill="#6490c8"/>
<ellipse cx="246.6" cy="650.2" rx="3.75" ry="3.95" fill="#6490c8"/>
<ellipse cx="250.4" cy="672.1" rx="3.75" ry="3.95" fill="#6490c8"/>
<ellipse cx="254.3" cy="629.7" rx="3.75" ry="3.95" fill="#6490c8"/>
<ellipse cx="258.2" cy="651.6" rx="3.75" ry="3.95" fill="#6490c8"/>
<ellipse cx="262.1" cy="623.2" rx="3.75" ry="3.95" fill="#6490c8"/>
<ellipse cx="266.0" cy="681.6" rx="3.75" ry="3.95" fill="#6490c8"/>
<ellipse cx="269.9" cy="657.9" rx="3.75" ry="3.95" fill="#6490c8"/>
<ellipse cx="273.7" cy="617.3" rx="3.75" ry="3.95" fill="#6490c8"/>
<ellipse cx="277.6" cy="637.5" rx="3.75" ry="3.95" fill="#6490c8"/>
<ellipse cx="281.5" cy="661.1" rx="3.75" ry="3.95" fill="#6490c8"/>
<ellipse cx="285.4" cy="636.4" rx="3.75" ry="3.95" fill="#6490c8"/>
<ellipse cx="289.3" cy="627.7" rx="3.75" ry="3.95" fill="#6490c8"/>
<ellipse cx="293.1" cy="592.6" rx="3.75" ry="3.95" fill="#6490c8"/>
<ellipse cx="297.0" cy="607.7" rx="3.75" ry="3.95" fill="#6490c8"/>
<ellipse cx="300.9" cy="645.6" rx="3.75" ry="3.95" fill="#6490c8"/>
<ellipse cx="304.8" cy="655.4" rx="3.75" ry="3.95" fill="#6490c8"/>
<ellipse cx="308.7" cy="579.5" rx="3.75" ry="3.95" fill="#6490c8"/>
<ellipse cx="312.6" cy="610.1" rx="3.75" ry="3.95" fill="#6490c8"/>
<ellipse cx="316.4" cy="621.4" rx="3.75" ry="3.95" fill="#6490c8"/>
<ellipse cx="320.3" cy="641.2" rx="3.75" ry="3.95" fill="#6490c8"/>
<ellipse cx="324.2" cy="609.1" rx="3.75" ry="3.95" fill="#6490c8"/>
<ellipse cx="328.1" cy="593.6" rx="3.75" ry="3.95" fill="#6490c8"/>
<ellipse cx="332.0" cy="620.8" rx="3.75" ry="3.95" fill="#6490c8"/>
<ellipse cx="339.7" cy="642.3" rx="3.75" ry="3.95" fill="#6490c8"/>
<ellipse cx="343.6" cy="634.5" rx="3.75" ry="3.95" fill="#6490c8"/>
<ellipse cx="347.5" cy="661.7" rx="3.75" ry="3.95" fill="#6490c8"/>
<ellipse cx="351.4" cy="644.2" rx="3.75" ry="3.95" fill="#6490c8"/>
<ellipse cx="355.3" cy="617.9" rx="3.75" ry="3.95" fill="#6490c8"/>
<ellipse cx="359.1" cy="718.8" rx="3.75" ry="3.95" fill="#6490c8"/>
<ellipse cx="363.0" cy="657.3" rx="3.75" ry="3.95" fill="#6490c8"/>
<ellipse cx="366.9" cy="599.2" rx="3.75" ry="3.95" fill="#6490c8"/>
<ellipse cx="370.8" cy="630.1" rx="3.75" ry="3.95" fill="#6490c8"/>
<ellipse cx="374.7" cy="667.1" rx="3.75" ry="3.95" fill="#6490c8"/>
<ellipse cx="378.6" cy="639.6" rx="3.75" ry="3.95" fill="#6490c8"/>
<ellipse cx="382.4" cy="672.4" rx="3.75" ry="3.95" fill="#6490c8"/>
<ellipse cx="386.3" cy="579.7" rx="3.75" ry="3.95" fill="#6490c8"/>
<ellipse cx="390.2" cy="636.6" rx="3.75" ry="3.95" fill="#6490c8"/>
<ellipse cx="394.1" cy="675.6" rx="3.75" ry="3.95" fill="#6490c8"/>
<ellipse cx="398.0" cy="641.5" rx="3.75" ry="3.95" fill="#6490c8"/>
<ellipse cx="401.9" cy="605.5" rx="3.75" ry="3.95" fill="#6490c8"/>
<ellipse cx="405.7" cy="666.6" rx="3.75" ry="3.95" fill="#6490c8"/>
<ellipse cx="409.6" cy="628.9" rx="3.75" ry="3.95" fill="#6490c8"/>
<ellipse cx="413.5" cy="616.2" rx="3.75" ry="3.95" fill="#6490c8"/>
<ellipse cx="417.4" cy="623.5" rx="3.75" ry="3.95" fill="#6490c8"/>
<ellipse cx="421.3" cy="646.9" rx="3.75" ry="3.95" fill="#6490c8"/>
<ellipse cx="425.1" cy="684.8" rx="3.75" ry="3.95" fill="#6490c8"/>
<ellipse cx="429.0" cy="670.7" rx="3.75" ry="3.95" fill="#6490c8"/>
<ellipse cx="432.9" cy="673.1" rx="3.75" ry="3.95" fill="#6490c8"/>
<ellipse cx="436.8" cy="573.4" rx="3.75" ry="3.95" fill="#6490c8"/>
<ellipse cx="440.7" cy="593.6" rx="3.75" ry="3.95" fill="#6490c8"/>
<ellipse cx="444.6" cy="660.7" rx="3.75" ry="3.95" fill="#6490c8"/>
<ellipse cx="448.4" cy="694.0" rx="3.75" ry="3.95" fill="#6490c8"/>
<ellipse cx="452.3" cy="602.0" rx="3.75" ry="3.95" fill="#6490c8"/>
<ellipse cx="456.2" cy="613.3" rx="3.75" ry="3.95" fill="#6490c8"/>
<ellipse cx="460.1" cy="634.2" rx="3.75" ry="3.95" fill="#6490c8"/>
<ellipse cx="464.0" cy="605.5" rx="3.75" ry="3.95" fill="#6490c8"/>
<ellipse cx="467.9" cy="599.7" rx="3.75" ry="3.95" fill="#6490c8"/>
<ellipse cx="471.7" cy="632.7" rx="3.75" ry="3.95" fill="#6490c8"/>
<ellipse cx="475.6" cy="623.1" rx="3.75" ry="3.95" fill="#6490c8"/>
<ellipse cx="479.5" cy="615.5" rx="3.75" ry="3.95" fill="#6490c8"/>
<ellipse cx="483.4" cy="651.2" rx="3.75" ry="3.95" fill="#6490c8"/>
<ellipse cx="487.3" cy="673.6" rx="3.75" ry="3.95" fill="#6490c8"/>
<ellipse cx="491.1" cy="623.1" rx="3.75" ry="3.95" fill="#6490c8"/>
<ellipse cx="498.9" cy="667.7" rx="3.75" ry="3.95" fill="#6490c8"/>
<ellipse cx="502.8" cy="638.5" rx="3.75" ry="3.95" fill="#6490c8"/>
<ellipse cx="510.6" cy="676.1" rx="3.75" ry="3.95" fill="#6490c8"/>
<ellipse cx="518.3" cy="672.4" rx="3.75" ry="3.95" fill="#6490c8"/>
<ellipse cx="522.2" cy="632.3" rx="3.75" ry="3.95" fill="#6490c8"/>
<ellipse cx="526.1" cy="658.1" rx="3.75" ry="3.95" fill="#6490c8"/>
<ellipse cx="530.0" cy="639.6" rx="3.75" ry="3.95" fill="#6490c8"/>
<ellipse cx="533.9" cy="625.4" rx="3.75" ry="3.95" fill="#6490c8"/>
<ellipse cx="537.7" cy="640.0" rx="3.75" ry="3.95" fill="#6490c8"/>
<ellipse cx="541.6" cy="634.2" rx="3.75" ry="3.95" fill="#6490c8"/>
<ellipse cx="545.5" cy="625.4" rx="3.75" ry="3.95" fill="#6490c8"/>
<ellipse cx="549.4" cy="663.9" rx="3.75" ry="3.95" fill="#6490c8"/>
<ellipse cx="553.3" cy="618.7" rx="3.75" ry="3.95" fill="#6490c8"/>
<ellipse cx="557.1" cy="665.8" rx="3.75" ry="3.95" fill="#6490c8"/>
<ellipse cx="561.0" cy="618.1" rx="3.75" ry="3.95" fill="#6490c8"/>
<ellipse cx="564.9" cy="636.0" rx="3.75" ry="3.95" fill="#6490c8"/>
<ellipse cx="568.8" cy="653.9" rx="3.75" ry="3.95" fill="#6490c8"/>
<ellipse cx="572.7" cy="641.6" rx="3.75" ry="3.95" fill="#6490c8"/>
<ellipse cx="576.5" cy="622.6" rx="3.75" ry="3.95" fill="#6490c8"/>
<ellipse cx="580.4" cy="642.1" rx="3.75" ry="3.95" fill="#6490c8"/>
<ellipse cx="588.2" cy="644.1" rx="3.75" ry="3.95" fill="#6490c8"/>
<ellipse cx="592.1" cy="649.7" rx="3.75" ry="3.95" fill="#6490c8"/>
<ellipse cx="596.0" cy="631.8" rx="3.75" ry="3.95" fill="#6490c8"/>
<ellipse cx="599.8" cy="673.2" rx="3.75" ry="3.95" fill="#6490c8"/>
<ellipse cx="603.7" cy="648.7" rx="3.75" ry="3.95" fill="#6490c8"/>
<ellipse cx="607.6" cy="621.1" rx="3.75" ry="3.95" fill="#6490c8"/>
<ellipse cx="611.5" cy="650.8" rx="3.75" ry="3.95" fill="#6490c8"/>
<ellipse cx="615.4" cy="647.1" rx="3.75" ry="3.95" fill="#6490c8"/>
<ellipse cx="619.2" cy="637.9" rx="3.75" ry="3.95" fill="#6490c8"/>
<ellipse cx="623.1" cy="623.2" rx="3.75" ry="3.95" fill="#6490c8"/>
<ellipse cx="627.0" cy="659.4" rx="3.75" ry="3.95" fill="#6490c8"/>
<ellipse cx="630.9" cy="631.4" rx="3.75" ry="3.95" fill="#6490c8"/>
<ellipse cx="634.8" cy="632.1" rx="3.75" ry="3.95" fill="#6490c8"/>
<ellipse cx="638.7" cy="637.9" rx="3.75" ry="3.95" fill="#6490c8"/>
<ellipse cx="642.5" cy="634.0" rx="3.75" ry="3.95" fill="#6490c8"/>
<ellipse cx="646.4" cy="657.9" rx="3.75" ry="3.95" fill="#6490c8"/>
<ellipse cx="650.3" cy="648.7" rx="3.75" ry="3.95" fill="#6490c8"/>
<ellipse cx="654.2" cy="633.6" rx="3.75" ry="3.95" fill="#6490c8"/>
<line x1="71.4" y1="493.30" x2="79.9" y2="493.30" stroke="#6a6a6a" stroke-width="1.4"/>
<text transform="translate(68.10,500.80) scale(0.9960,1.0950)" text-anchor="end" font-family='"Liberation Serif", serif' font-size="20.5">10</text>
<line x1="71.4" y1="571.58" x2="79.9" y2="571.58" stroke="#6a6a6a" stroke-width="1.4"/>
<text transform="translate(68.10,579.08) scale(0.9960,1.0950)" text-anchor="end" font-family='"Liberation Serif", serif' font-size="20.5">5</text>
<line x1="71.4" y1="649.85" x2="79.9" y2="649.85" stroke="#6a6a6a" stroke-width="1.4"/>
<text transform="translate(68.10,657.35) scale(0.9960,1.0950)" text-anchor="end" font-family='"Liberation Serif", serif' font-size="20.5">0</text>
<line x1="71.4" y1="728.12" x2="79.9" y2="728.12" stroke="#6a6a6a" stroke-width="1.4"/>
<text transform="translate(68.10,735.62) scale(0.9960,1.0950)" text-anchor="end" font-family='"Liberation Serif", serif' font-size="20.5">−5</text>
<line x1="71.4" y1="806.40" x2="79.9" y2="806.40" stroke="#6a6a6a" stroke-width="1.4"/>
<text transform="translate(68.10,813.90) scale(0.9960,1.0950)" text-anchor="end" font-family='"Liberation Serif", serif' font-size="20.5">−10</text>
<line x1="99.05" y1="806.4" x2="99.05" y2="797.4" stroke="#6a6a6a" stroke-width="1.4"/>
<text transform="translate(101.59,840.46) scale(1.0040,1.0590) rotate(-45)" text-anchor="middle" font-family='"Liberation Serif", serif' font-size="16.5">09-01 12</text>
<line x1="168.92" y1="806.4" x2="168.92" y2="797.4" stroke="#6a6a6a" stroke-width="1.4"/>
<text transform="translate(171.46,840.46) scale(1.0040,1.0590) rotate(-45)" text-anchor="middle" font-family='"Liberation Serif", serif' font-size="16.5">09-01 15</text>
<line x1="238.79" y1="806.4" x2="238.79" y2="797.4" stroke="#6a6a6a" stroke-width="1.4"/>
<text transform="translate(241.33,840.46) scale(1.0040,1.0590) rotate(-45)" text-anchor="middle" font-family='"Liberation Serif", serif' font-size="16.5">09-01 18</text>
<line x1="308.66" y1="806.4" x2="308.66" y2="797.4" stroke="#6a6a6a" stroke-width="1.4"/>
<text transform="translate(311.20,840.46) scale(1.0040,1.0590) rotate(-45)" text-anchor="middle" font-family='"Liberation Serif", serif' font-size="16.5">09-01 21</text>
<line x1="378.53" y1="806.4" x2="378.53" y2="797.4" stroke="#6a6a6a" stroke-width="1.4"/>
<text transform="translate(381.07,840.46) scale(1.0040,1.0590) rotate(-45)" text-anchor="middle" font-family='"Liberation Serif", serif' font-size="16.5">09-02 00</text>
<line x1="448.40" y1="806.4" x2="448.40" y2="797.4" stroke="#6a6a6a" stroke-width="1.4"/>
<text transform="translate(450.94,840.46) scale(1.0040,1.0590) rotate(-45)" text-anchor="middle" font-family='"Liberation Serif", serif' font-size="16.5">09-02 03</text>
<line x1="518.27" y1="806.4" x2="518.27" y2="797.4" stroke="#6a6a6a" stroke-width="1.4"/>
<text transform="translate(520.81,840.46) scale(1.0040,1.0590) rotate(-45)" text-anchor="middle" font-family='"Liberation Serif", serif' font-size="16.5">09-02 06</text>
<line x1="588.14" y1="806.4" x2="588.14" y2="797.4" stroke="#6a6a6a" stroke-width="1.4"/>
<text transform="translate(590.68,840.46) scale(1.0040,1.0590) rotate(-45)" text-anchor="middle" font-family='"Liberation Serif", serif' font-size="16.5">09-02 09</text>
<line x1="658.01" y1="806.4" x2="658.01" y2="797.4" stroke="#6a6a6a" stroke-width="1.4"/>
<text transform="translate(660.55,840.46) scale(1.0040,1.0590) rotate(-45)" text-anchor="middle" font-family='"Liberation Serif", serif' font-size="16.5">09-02 12</text>
<rect x="71.4" y="493.3" width="610.40" height="313.10" fill="none" stroke="#000" stroke-width="2"/>
<rect x="561.4" y="502.9" width="111.2" height="114.3" rx="3" fill="#fff" fill-opacity="0.8" stroke="#dedede" stroke-width="1"/>
<ellipse cx="586.5" cy="519.00" rx="3.75" ry="3.95" fill="#fad77e"/>
<text transform="translate(618.90,524.17) scale(0.9710,1.0630)" font-family='"Liberation Serif", serif' font-size="18.8">10 m</text>
<ellipse cx="586.5" cy="546.27" rx="3.75" ry="3.95" fill="#f1807a"/>
<text transform="translate(618.90,551.44) scale(0.9710,1.0630)" font-family='"Liberation Serif", serif' font-size="18.8">40 m</text>
<ellipse cx="586.5" cy="573.54" rx="3.75" ry="3.95" fill="#5ec18d"/>
<text transform="translate(618.90,578.71) scale(0.9710,1.0630)" font-family='"Liberation Serif", serif' font-size="18.8">160 m</text>
<ellipse cx="586.5" cy="600.81" rx="3.75" ry="3.95" fill="#6490c8"/>
<text transform="translate(618.90,605.98) scale(0.9710,1.0630)" font-family='"Liberation Serif", serif' font-size="18.8">320 m</text>
<text transform="translate(78.77,523.35) scale(1.0552,1.0292)" font-family='"Liberation Sans", sans-serif' font-size="24">(b)</text>
<text transform="translate(376.45,473.88) scale(0.9914,1.0774)" text-anchor="middle" font-family='"Liberation Serif", serif' font-weight="bold" font-size="23">SZMGT</text>
<text transform="translate(376.67,895.59) scale(0.9849,1.0277)" text-anchor="middle" font-family='"Liberation Serif", serif' font-weight="bold" font-size="23">Time</text>
<text transform="translate(17.56,649.71) scale(0.9571,1.0453) rotate(-90)" text-anchor="middle" font-family='"Liberation Serif", serif' font-weight="bold" font-size="23">Vertical wind speed (m/s)</text>
</svg>
</body></html>
